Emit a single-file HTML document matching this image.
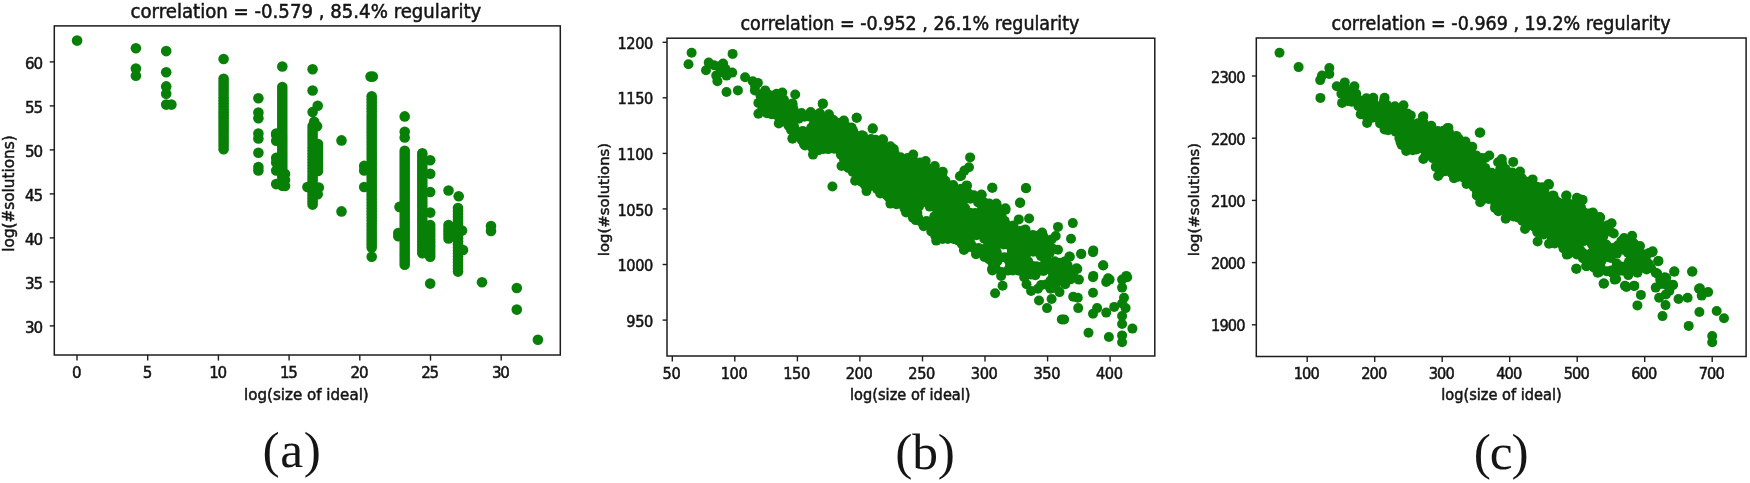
<!DOCTYPE html>
<html lang="en"><head><meta charset="utf-8"><title>scatter plots</title>
<style>
html,body{margin:0;padding:0;background:#fff;}
body{width:1750px;height:483px;overflow:hidden;}
svg{display:block;filter:blur(0.55px);}
.t{font-family:"DejaVu Sans","Liberation Sans",sans-serif;fill:#151515;stroke:#151515;stroke-width:0.5px;}
.cap{font-family:"Liberation Serif","DejaVu Serif",serif;fill:#151515;}
.fr{fill:none;stroke:#1c1c1c;stroke-width:1.5;}
.tick{stroke:#1c1c1c;stroke-width:1.4;}
.d{fill:#088008;}
</style></head><body>
<svg width="1750" height="483" viewBox="0 0 1750 483">
<rect width="1750" height="483" fill="#fff"/>
<g id="plot-a">
<g class="d"><circle cx="77.1" cy="40.6" r="5.3"/><circle cx="135.9" cy="48.3" r="5.3"/><circle cx="135.9" cy="68.6" r="5.3"/><circle cx="135.9" cy="75.7" r="5.3"/><circle cx="166.2" cy="51.1" r="5.3"/><circle cx="166.2" cy="72.2" r="5.3"/><circle cx="166.2" cy="86.4" r="5.3"/><circle cx="166.2" cy="93.7" r="5.3"/><circle cx="166.2" cy="104.6" r="5.3"/><circle cx="171.4" cy="104.6" r="5.3"/><circle cx="223.6" cy="59.0" r="5.3"/><circle cx="223.6" cy="78.8" r="5.3"/><circle cx="223.6" cy="81.9" r="5.3"/><circle cx="223.6" cy="84.9" r="5.3"/><circle cx="223.6" cy="88.0" r="5.3"/><circle cx="223.6" cy="91.0" r="5.3"/><circle cx="223.6" cy="94.1" r="5.3"/><circle cx="223.6" cy="97.2" r="5.3"/><circle cx="223.6" cy="100.2" r="5.3"/><circle cx="223.6" cy="103.3" r="5.3"/><circle cx="223.6" cy="106.3" r="5.3"/><circle cx="223.6" cy="109.4" r="5.3"/><circle cx="223.6" cy="112.5" r="5.3"/><circle cx="223.6" cy="115.5" r="5.3"/><circle cx="223.6" cy="118.6" r="5.3"/><circle cx="223.6" cy="121.7" r="5.3"/><circle cx="223.6" cy="124.7" r="5.3"/><circle cx="223.6" cy="127.8" r="5.3"/><circle cx="223.6" cy="130.8" r="5.3"/><circle cx="223.6" cy="133.9" r="5.3"/><circle cx="223.6" cy="137.0" r="5.3"/><circle cx="223.6" cy="140.0" r="5.3"/><circle cx="223.6" cy="143.1" r="5.3"/><circle cx="223.6" cy="146.1" r="5.3"/><circle cx="223.6" cy="149.2" r="5.3"/><circle cx="258.4" cy="98.2" r="5.3"/><circle cx="258.4" cy="112.6" r="5.3"/><circle cx="258.4" cy="118.3" r="5.3"/><circle cx="258.4" cy="133.5" r="5.3"/><circle cx="258.4" cy="138.5" r="5.3"/><circle cx="258.4" cy="152.7" r="5.3"/><circle cx="258.4" cy="167.0" r="5.3"/><circle cx="258.4" cy="170.4" r="5.3"/><circle cx="282.3" cy="66.5" r="5.3"/><circle cx="282.3" cy="87.0" r="5.3"/><circle cx="282.3" cy="90.0" r="5.3"/><circle cx="282.3" cy="93.0" r="5.3"/><circle cx="282.3" cy="96.0" r="5.3"/><circle cx="282.3" cy="99.0" r="5.3"/><circle cx="282.3" cy="102.0" r="5.3"/><circle cx="282.3" cy="104.9" r="5.3"/><circle cx="282.3" cy="107.9" r="5.3"/><circle cx="282.3" cy="110.9" r="5.3"/><circle cx="282.3" cy="113.9" r="5.3"/><circle cx="282.3" cy="116.9" r="5.3"/><circle cx="282.3" cy="119.9" r="5.3"/><circle cx="282.3" cy="122.9" r="5.3"/><circle cx="282.3" cy="125.9" r="5.3"/><circle cx="282.3" cy="128.9" r="5.3"/><circle cx="282.3" cy="131.9" r="5.3"/><circle cx="282.3" cy="134.9" r="5.3"/><circle cx="282.3" cy="137.8" r="5.3"/><circle cx="282.3" cy="140.8" r="5.3"/><circle cx="282.3" cy="143.8" r="5.3"/><circle cx="282.3" cy="146.8" r="5.3"/><circle cx="282.3" cy="149.8" r="5.3"/><circle cx="282.3" cy="152.8" r="5.3"/><circle cx="282.3" cy="155.8" r="5.3"/><circle cx="282.3" cy="158.8" r="5.3"/><circle cx="282.3" cy="161.8" r="5.3"/><circle cx="282.3" cy="164.8" r="5.3"/><circle cx="282.3" cy="167.8" r="5.3"/><circle cx="282.3" cy="170.7" r="5.3"/><circle cx="282.3" cy="173.7" r="5.3"/><circle cx="282.3" cy="176.7" r="5.3"/><circle cx="282.3" cy="179.7" r="5.3"/><circle cx="282.3" cy="182.7" r="5.3"/><circle cx="282.3" cy="185.7" r="5.3"/><circle cx="276.2" cy="133.5" r="5.3"/><circle cx="276.2" cy="135.1" r="5.3"/><circle cx="276.2" cy="140.8" r="5.3"/><circle cx="276.2" cy="157.9" r="5.3"/><circle cx="276.2" cy="162.4" r="5.3"/><circle cx="276.2" cy="170.4" r="5.3"/><circle cx="276.2" cy="184.1" r="5.3"/><circle cx="285.0" cy="174.0" r="5.3"/><circle cx="285.0" cy="180.0" r="5.3"/><circle cx="285.0" cy="186.0" r="5.3"/><circle cx="312.6" cy="69.3" r="5.3"/><circle cx="312.6" cy="90.5" r="5.3"/><circle cx="317.7" cy="105.7" r="5.3"/><circle cx="312.6" cy="112.1" r="5.3"/><circle cx="314.2" cy="121.7" r="5.3"/><circle cx="317.0" cy="126.2" r="5.3"/><circle cx="312.6" cy="126.0" r="5.3"/><circle cx="312.6" cy="129.0" r="5.3"/><circle cx="312.6" cy="132.0" r="5.3"/><circle cx="312.6" cy="135.1" r="5.3"/><circle cx="312.6" cy="138.1" r="5.3"/><circle cx="312.6" cy="141.1" r="5.3"/><circle cx="312.6" cy="144.1" r="5.3"/><circle cx="312.6" cy="147.2" r="5.3"/><circle cx="312.6" cy="150.2" r="5.3"/><circle cx="312.6" cy="153.2" r="5.3"/><circle cx="312.6" cy="156.2" r="5.3"/><circle cx="312.6" cy="159.3" r="5.3"/><circle cx="312.6" cy="162.3" r="5.3"/><circle cx="312.6" cy="165.3" r="5.3"/><circle cx="312.6" cy="168.3" r="5.3"/><circle cx="312.6" cy="171.3" r="5.3"/><circle cx="312.6" cy="174.4" r="5.3"/><circle cx="312.6" cy="177.4" r="5.3"/><circle cx="312.6" cy="180.4" r="5.3"/><circle cx="312.6" cy="183.4" r="5.3"/><circle cx="312.6" cy="186.5" r="5.3"/><circle cx="312.6" cy="189.5" r="5.3"/><circle cx="312.6" cy="192.5" r="5.3"/><circle cx="312.6" cy="195.5" r="5.3"/><circle cx="312.6" cy="198.6" r="5.3"/><circle cx="312.6" cy="201.6" r="5.3"/><circle cx="312.6" cy="204.6" r="5.3"/><circle cx="318.0" cy="144.0" r="5.3"/><circle cx="318.0" cy="147.0" r="5.3"/><circle cx="318.0" cy="150.0" r="5.3"/><circle cx="318.0" cy="153.0" r="5.3"/><circle cx="318.0" cy="156.0" r="5.3"/><circle cx="318.0" cy="159.0" r="5.3"/><circle cx="318.0" cy="162.0" r="5.3"/><circle cx="318.0" cy="165.0" r="5.3"/><circle cx="318.0" cy="168.0" r="5.3"/><circle cx="318.0" cy="171.0" r="5.3"/><circle cx="307.4" cy="187.0" r="5.3"/><circle cx="318.8" cy="187.5" r="5.3"/><circle cx="317.7" cy="194.3" r="5.3"/><circle cx="341.5" cy="140.4" r="5.3"/><circle cx="341.5" cy="211.4" r="5.3"/><circle cx="370.6" cy="76.6" r="5.3"/><circle cx="372.8" cy="76.6" r="5.3"/><circle cx="371.7" cy="96.2" r="5.3"/><circle cx="371.7" cy="99.2" r="5.3"/><circle cx="371.7" cy="102.3" r="5.3"/><circle cx="371.7" cy="105.3" r="5.3"/><circle cx="371.7" cy="108.3" r="5.3"/><circle cx="371.7" cy="111.3" r="5.3"/><circle cx="371.7" cy="114.4" r="5.3"/><circle cx="371.7" cy="117.4" r="5.3"/><circle cx="371.7" cy="120.4" r="5.3"/><circle cx="371.7" cy="123.5" r="5.3"/><circle cx="371.7" cy="126.5" r="5.3"/><circle cx="371.7" cy="129.5" r="5.3"/><circle cx="371.7" cy="132.5" r="5.3"/><circle cx="371.7" cy="135.6" r="5.3"/><circle cx="371.7" cy="138.6" r="5.3"/><circle cx="371.7" cy="141.6" r="5.3"/><circle cx="371.7" cy="144.6" r="5.3"/><circle cx="371.7" cy="147.7" r="5.3"/><circle cx="371.7" cy="150.7" r="5.3"/><circle cx="371.7" cy="153.7" r="5.3"/><circle cx="371.7" cy="156.8" r="5.3"/><circle cx="371.7" cy="159.8" r="5.3"/><circle cx="371.7" cy="162.8" r="5.3"/><circle cx="371.7" cy="165.8" r="5.3"/><circle cx="371.7" cy="168.9" r="5.3"/><circle cx="371.7" cy="171.9" r="5.3"/><circle cx="371.7" cy="174.9" r="5.3"/><circle cx="371.7" cy="178.0" r="5.3"/><circle cx="371.7" cy="181.0" r="5.3"/><circle cx="371.7" cy="184.0" r="5.3"/><circle cx="371.7" cy="187.0" r="5.3"/><circle cx="371.7" cy="190.1" r="5.3"/><circle cx="371.7" cy="193.1" r="5.3"/><circle cx="371.7" cy="196.1" r="5.3"/><circle cx="371.7" cy="199.2" r="5.3"/><circle cx="371.7" cy="202.2" r="5.3"/><circle cx="371.7" cy="205.2" r="5.3"/><circle cx="371.7" cy="208.2" r="5.3"/><circle cx="371.7" cy="211.3" r="5.3"/><circle cx="371.7" cy="214.3" r="5.3"/><circle cx="371.7" cy="217.3" r="5.3"/><circle cx="371.7" cy="220.3" r="5.3"/><circle cx="371.7" cy="223.4" r="5.3"/><circle cx="371.7" cy="226.4" r="5.3"/><circle cx="371.7" cy="229.4" r="5.3"/><circle cx="371.7" cy="232.5" r="5.3"/><circle cx="371.7" cy="235.5" r="5.3"/><circle cx="371.7" cy="238.5" r="5.3"/><circle cx="371.7" cy="241.5" r="5.3"/><circle cx="371.7" cy="244.6" r="5.3"/><circle cx="371.7" cy="247.6" r="5.3"/><circle cx="371.7" cy="256.8" r="5.3"/><circle cx="364.2" cy="165.9" r="5.3"/><circle cx="364.2" cy="170.4" r="5.3"/><circle cx="364.2" cy="187.0" r="5.3"/><circle cx="404.7" cy="116.4" r="5.3"/><circle cx="404.7" cy="131.7" r="5.3"/><circle cx="404.7" cy="137.4" r="5.3"/><circle cx="404.7" cy="150.8" r="5.3"/><circle cx="404.7" cy="153.8" r="5.3"/><circle cx="404.7" cy="156.8" r="5.3"/><circle cx="404.7" cy="159.8" r="5.3"/><circle cx="404.7" cy="162.8" r="5.3"/><circle cx="404.7" cy="165.8" r="5.3"/><circle cx="404.7" cy="168.8" r="5.3"/><circle cx="404.7" cy="171.8" r="5.3"/><circle cx="404.7" cy="174.8" r="5.3"/><circle cx="404.7" cy="177.8" r="5.3"/><circle cx="404.7" cy="180.8" r="5.3"/><circle cx="404.7" cy="183.8" r="5.3"/><circle cx="404.7" cy="186.8" r="5.3"/><circle cx="404.7" cy="189.8" r="5.3"/><circle cx="404.7" cy="192.8" r="5.3"/><circle cx="404.7" cy="195.8" r="5.3"/><circle cx="404.7" cy="198.8" r="5.3"/><circle cx="404.7" cy="201.8" r="5.3"/><circle cx="404.7" cy="204.8" r="5.3"/><circle cx="404.7" cy="207.8" r="5.3"/><circle cx="404.7" cy="210.7" r="5.3"/><circle cx="404.7" cy="213.7" r="5.3"/><circle cx="404.7" cy="216.7" r="5.3"/><circle cx="404.7" cy="219.7" r="5.3"/><circle cx="404.7" cy="222.7" r="5.3"/><circle cx="404.7" cy="225.7" r="5.3"/><circle cx="404.7" cy="228.7" r="5.3"/><circle cx="404.7" cy="231.7" r="5.3"/><circle cx="404.7" cy="234.7" r="5.3"/><circle cx="404.7" cy="237.7" r="5.3"/><circle cx="404.7" cy="240.7" r="5.3"/><circle cx="404.7" cy="243.7" r="5.3"/><circle cx="404.7" cy="246.7" r="5.3"/><circle cx="404.7" cy="249.7" r="5.3"/><circle cx="404.7" cy="252.7" r="5.3"/><circle cx="404.7" cy="255.7" r="5.3"/><circle cx="404.7" cy="258.7" r="5.3"/><circle cx="404.7" cy="261.7" r="5.3"/><circle cx="404.7" cy="264.7" r="5.3"/><circle cx="399.5" cy="206.9" r="5.3"/><circle cx="398.3" cy="233.0" r="5.3"/><circle cx="398.3" cy="236.3" r="5.3"/><circle cx="422.3" cy="153.3" r="5.3"/><circle cx="422.3" cy="156.3" r="5.3"/><circle cx="422.3" cy="159.4" r="5.3"/><circle cx="422.3" cy="162.4" r="5.3"/><circle cx="422.3" cy="165.4" r="5.3"/><circle cx="422.3" cy="168.5" r="5.3"/><circle cx="422.3" cy="171.5" r="5.3"/><circle cx="422.3" cy="174.5" r="5.3"/><circle cx="422.3" cy="177.5" r="5.3"/><circle cx="422.3" cy="180.6" r="5.3"/><circle cx="422.3" cy="183.6" r="5.3"/><circle cx="422.3" cy="186.6" r="5.3"/><circle cx="422.3" cy="189.7" r="5.3"/><circle cx="422.3" cy="192.7" r="5.3"/><circle cx="422.3" cy="195.7" r="5.3"/><circle cx="422.3" cy="198.8" r="5.3"/><circle cx="422.3" cy="201.8" r="5.3"/><circle cx="422.3" cy="204.8" r="5.3"/><circle cx="422.3" cy="207.8" r="5.3"/><circle cx="422.3" cy="210.9" r="5.3"/><circle cx="422.3" cy="213.9" r="5.3"/><circle cx="422.3" cy="216.9" r="5.3"/><circle cx="422.3" cy="220.0" r="5.3"/><circle cx="422.3" cy="223.0" r="5.3"/><circle cx="422.3" cy="226.0" r="5.3"/><circle cx="422.3" cy="229.1" r="5.3"/><circle cx="422.3" cy="232.1" r="5.3"/><circle cx="422.3" cy="235.1" r="5.3"/><circle cx="422.3" cy="238.1" r="5.3"/><circle cx="422.3" cy="241.2" r="5.3"/><circle cx="422.3" cy="244.2" r="5.3"/><circle cx="422.3" cy="247.2" r="5.3"/><circle cx="422.3" cy="250.3" r="5.3"/><circle cx="422.3" cy="253.3" r="5.3"/><circle cx="430.2" cy="160.2" r="5.3"/><circle cx="430.2" cy="173.8" r="5.3"/><circle cx="430.2" cy="192.0" r="5.3"/><circle cx="430.2" cy="212.6" r="5.3"/><circle cx="430.2" cy="225.0" r="5.3"/><circle cx="430.2" cy="227.9" r="5.3"/><circle cx="430.2" cy="230.8" r="5.3"/><circle cx="430.2" cy="233.7" r="5.3"/><circle cx="430.2" cy="236.6" r="5.3"/><circle cx="430.2" cy="239.5" r="5.3"/><circle cx="430.2" cy="242.3" r="5.3"/><circle cx="430.2" cy="245.2" r="5.3"/><circle cx="430.2" cy="248.1" r="5.3"/><circle cx="430.2" cy="251.0" r="5.3"/><circle cx="430.2" cy="253.9" r="5.3"/><circle cx="430.2" cy="256.8" r="5.3"/><circle cx="430.2" cy="283.6" r="5.3"/><circle cx="448.5" cy="190.5" r="5.3"/><circle cx="448.5" cy="225.0" r="5.3"/><circle cx="448.5" cy="228.4" r="5.3"/><circle cx="448.5" cy="231.8" r="5.3"/><circle cx="448.5" cy="235.1" r="5.3"/><circle cx="448.5" cy="238.5" r="5.3"/><circle cx="458.7" cy="196.2" r="5.3"/><circle cx="458.0" cy="208.0" r="5.3"/><circle cx="458.0" cy="211.0" r="5.3"/><circle cx="458.0" cy="214.1" r="5.3"/><circle cx="458.0" cy="217.1" r="5.3"/><circle cx="458.0" cy="220.1" r="5.3"/><circle cx="458.0" cy="223.1" r="5.3"/><circle cx="458.0" cy="226.2" r="5.3"/><circle cx="458.0" cy="229.2" r="5.3"/><circle cx="458.0" cy="232.2" r="5.3"/><circle cx="458.0" cy="235.3" r="5.3"/><circle cx="458.0" cy="238.3" r="5.3"/><circle cx="458.0" cy="241.3" r="5.3"/><circle cx="458.0" cy="244.3" r="5.3"/><circle cx="458.0" cy="247.4" r="5.3"/><circle cx="458.0" cy="250.4" r="5.3"/><circle cx="458.0" cy="253.4" r="5.3"/><circle cx="458.0" cy="256.5" r="5.3"/><circle cx="458.0" cy="259.5" r="5.3"/><circle cx="458.0" cy="262.5" r="5.3"/><circle cx="458.0" cy="265.5" r="5.3"/><circle cx="458.0" cy="268.6" r="5.3"/><circle cx="458.0" cy="271.6" r="5.3"/><circle cx="454.0" cy="228.5" r="5.3"/><circle cx="462.0" cy="230.5" r="5.3"/><circle cx="463.0" cy="250.0" r="5.3"/><circle cx="491.0" cy="226.0" r="5.3"/><circle cx="491.0" cy="231.0" r="5.3"/><circle cx="482.0" cy="282.3" r="5.3"/><circle cx="516.8" cy="288.0" r="5.3"/><circle cx="516.8" cy="309.6" r="5.3"/><circle cx="537.9" cy="339.8" r="5.3"/></g>
<rect class="fr" x="54.3" y="25.9" width="506.0" height="329.1"/>
<line class="tick" x1="77.0" x2="77.0" y1="355.0" y2="360.6"/><text class="t" font-size="15.10" text-anchor="middle" letter-spacing="-1.30" transform="translate(76.10,378.30) scale(1,1.09)">0</text>
<line class="tick" x1="147.7" x2="147.7" y1="355.0" y2="360.6"/><text class="t" font-size="15.10" text-anchor="middle" letter-spacing="-1.30" transform="translate(146.80,378.30) scale(1,1.09)">5</text>
<line class="tick" x1="218.4" x2="218.4" y1="355.0" y2="360.6"/><text class="t" font-size="15.10" text-anchor="middle" letter-spacing="-1.30" transform="translate(217.50,378.30) scale(1,1.09)">10</text>
<line class="tick" x1="289.1" x2="289.1" y1="355.0" y2="360.6"/><text class="t" font-size="15.10" text-anchor="middle" letter-spacing="-1.30" transform="translate(288.20,378.30) scale(1,1.09)">15</text>
<line class="tick" x1="359.8" x2="359.8" y1="355.0" y2="360.6"/><text class="t" font-size="15.10" text-anchor="middle" letter-spacing="-1.30" transform="translate(358.90,378.30) scale(1,1.09)">20</text>
<line class="tick" x1="430.5" x2="430.5" y1="355.0" y2="360.6"/><text class="t" font-size="15.10" text-anchor="middle" letter-spacing="-1.30" transform="translate(429.60,378.30) scale(1,1.09)">25</text>
<line class="tick" x1="501.2" x2="501.2" y1="355.0" y2="360.6"/><text class="t" font-size="15.10" text-anchor="middle" letter-spacing="-1.30" transform="translate(500.30,378.30) scale(1,1.09)">30</text>
<line class="tick" x1="49.7" x2="54.3" y1="61.9" y2="61.9"/><text class="t" font-size="15.10" text-anchor="end" letter-spacing="-1.30" transform="translate(41.70,68.70) scale(1,1.09)">60</text>
<line class="tick" x1="49.7" x2="54.3" y1="105.9" y2="105.9"/><text class="t" font-size="15.10" text-anchor="end" letter-spacing="-1.30" transform="translate(41.70,112.70) scale(1,1.09)">55</text>
<line class="tick" x1="49.7" x2="54.3" y1="149.9" y2="149.9"/><text class="t" font-size="15.10" text-anchor="end" letter-spacing="-1.30" transform="translate(41.70,156.70) scale(1,1.09)">50</text>
<line class="tick" x1="49.7" x2="54.3" y1="193.9" y2="193.9"/><text class="t" font-size="15.10" text-anchor="end" letter-spacing="-1.30" transform="translate(41.70,200.70) scale(1,1.09)">45</text>
<line class="tick" x1="49.7" x2="54.3" y1="237.9" y2="237.9"/><text class="t" font-size="15.10" text-anchor="end" letter-spacing="-1.30" transform="translate(41.70,244.70) scale(1,1.09)">40</text>
<line class="tick" x1="49.7" x2="54.3" y1="281.9" y2="281.9"/><text class="t" font-size="15.10" text-anchor="end" letter-spacing="-1.30" transform="translate(41.70,288.70) scale(1,1.09)">35</text>
<line class="tick" x1="49.7" x2="54.3" y1="325.9" y2="325.9"/><text class="t" font-size="15.10" text-anchor="end" letter-spacing="-1.30" transform="translate(41.70,332.70) scale(1,1.09)">30</text>
<text class="t" font-size="18.15" text-anchor="middle" transform="translate(305.90,17.50) scale(1,1.09)">correlation = -0.579 , 85.4% regularity</text>
<text class="t" font-size="15.10" text-anchor="middle" transform="translate(306.40,399.60) scale(1,1.09)">log(size of ideal)</text>
<text class="t" font-size="15.28" text-anchor="middle" transform="translate(13.70,193.50) rotate(-90)">log(#solutions)</text>
<text class="cap" text-anchor="middle" font-size="51.5" letter-spacing="0.6" x="292.0" y="467.15">(a)</text>
</g>
<g id="plot-b">
<g class="d"><circle cx="755.1" cy="86.2" r="5.0"/><circle cx="760.6" cy="94.6" r="5.0"/><circle cx="765.2" cy="96.3" r="5.0"/><circle cx="770.4" cy="95.4" r="5.0"/><circle cx="775.4" cy="95.2" r="5.0"/><circle cx="762.3" cy="98.8" r="5.0"/><circle cx="768.6" cy="100.2" r="5.0"/><circle cx="774.9" cy="100.3" r="5.0"/><circle cx="779.3" cy="100.4" r="5.0"/><circle cx="784.0" cy="99.8" r="5.0"/><circle cx="764.7" cy="104.8" r="5.0"/><circle cx="772.2" cy="104.5" r="5.0"/><circle cx="777.5" cy="102.9" r="5.0"/><circle cx="780.9" cy="104.1" r="5.0"/><circle cx="787.9" cy="105.4" r="5.0"/><circle cx="762.1" cy="109.7" r="5.0"/><circle cx="768.3" cy="109.5" r="5.0"/><circle cx="773.5" cy="109.7" r="5.0"/><circle cx="778.8" cy="107.8" r="5.0"/><circle cx="782.9" cy="108.8" r="5.0"/><circle cx="789.7" cy="109.7" r="5.0"/><circle cx="793.5" cy="109.0" r="5.0"/><circle cx="766.9" cy="113.3" r="5.0"/><circle cx="771.4" cy="114.2" r="5.0"/><circle cx="775.3" cy="114.5" r="5.0"/><circle cx="781.9" cy="112.9" r="5.0"/><circle cx="787.5" cy="112.6" r="5.0"/><circle cx="793.2" cy="113.4" r="5.0"/><circle cx="796.8" cy="113.9" r="5.0"/><circle cx="818.3" cy="114.4" r="5.0"/><circle cx="779.1" cy="117.2" r="5.0"/><circle cx="783.4" cy="118.0" r="5.0"/><circle cx="788.2" cy="118.8" r="5.0"/><circle cx="793.6" cy="116.5" r="5.0"/><circle cx="798.7" cy="118.8" r="5.0"/><circle cx="804.5" cy="116.8" r="5.0"/><circle cx="808.9" cy="116.5" r="5.0"/><circle cx="815.8" cy="118.0" r="5.0"/><circle cx="821.1" cy="118.3" r="5.0"/><circle cx="824.6" cy="117.9" r="5.0"/><circle cx="830.6" cy="118.5" r="5.0"/><circle cx="780.9" cy="121.7" r="5.0"/><circle cx="786.8" cy="121.3" r="5.0"/><circle cx="791.5" cy="121.4" r="5.0"/><circle cx="814.0" cy="123.0" r="5.0"/><circle cx="818.6" cy="122.0" r="5.0"/><circle cx="822.4" cy="122.6" r="5.0"/><circle cx="827.3" cy="121.4" r="5.0"/><circle cx="833.3" cy="121.0" r="5.0"/><circle cx="838.5" cy="123.0" r="5.0"/><circle cx="788.8" cy="126.0" r="5.0"/><circle cx="794.0" cy="126.6" r="5.0"/><circle cx="811.3" cy="127.6" r="5.0"/><circle cx="814.2" cy="127.5" r="5.0"/><circle cx="821.6" cy="127.4" r="5.0"/><circle cx="824.8" cy="127.6" r="5.0"/><circle cx="831.3" cy="125.4" r="5.0"/><circle cx="834.9" cy="127.9" r="5.0"/><circle cx="841.8" cy="126.0" r="5.0"/><circle cx="845.5" cy="125.8" r="5.0"/><circle cx="851.1" cy="127.4" r="5.0"/><circle cx="791.1" cy="130.0" r="5.0"/><circle cx="797.9" cy="132.3" r="5.0"/><circle cx="802.8" cy="130.9" r="5.0"/><circle cx="808.4" cy="131.9" r="5.0"/><circle cx="812.9" cy="130.6" r="5.0"/><circle cx="817.4" cy="131.0" r="5.0"/><circle cx="822.7" cy="131.0" r="5.0"/><circle cx="828.7" cy="132.3" r="5.0"/><circle cx="832.4" cy="131.4" r="5.0"/><circle cx="837.5" cy="130.2" r="5.0"/><circle cx="844.8" cy="131.4" r="5.0"/><circle cx="850.2" cy="131.1" r="5.0"/><circle cx="853.1" cy="130.9" r="5.0"/><circle cx="794.8" cy="136.2" r="5.0"/><circle cx="799.7" cy="134.9" r="5.0"/><circle cx="804.3" cy="136.4" r="5.0"/><circle cx="810.9" cy="135.6" r="5.0"/><circle cx="814.3" cy="136.5" r="5.0"/><circle cx="821.3" cy="135.0" r="5.0"/><circle cx="826.0" cy="136.7" r="5.0"/><circle cx="831.9" cy="135.8" r="5.0"/><circle cx="836.1" cy="135.9" r="5.0"/><circle cx="840.5" cy="134.9" r="5.0"/><circle cx="845.7" cy="136.2" r="5.0"/><circle cx="851.4" cy="135.9" r="5.0"/><circle cx="856.7" cy="135.7" r="5.0"/><circle cx="801.7" cy="140.0" r="5.0"/><circle cx="806.7" cy="139.6" r="5.0"/><circle cx="813.6" cy="139.8" r="5.0"/><circle cx="817.1" cy="140.2" r="5.0"/><circle cx="822.7" cy="141.3" r="5.0"/><circle cx="827.3" cy="141.5" r="5.0"/><circle cx="832.4" cy="141.2" r="5.0"/><circle cx="839.2" cy="139.5" r="5.0"/><circle cx="843.9" cy="139.7" r="5.0"/><circle cx="848.5" cy="139.4" r="5.0"/><circle cx="854.0" cy="141.5" r="5.0"/><circle cx="860.8" cy="141.3" r="5.0"/><circle cx="863.7" cy="139.7" r="5.0"/><circle cx="871.0" cy="139.1" r="5.0"/><circle cx="875.7" cy="139.7" r="5.0"/><circle cx="811.0" cy="145.8" r="5.0"/><circle cx="815.1" cy="144.5" r="5.0"/><circle cx="821.4" cy="144.8" r="5.0"/><circle cx="825.5" cy="145.9" r="5.0"/><circle cx="831.7" cy="144.3" r="5.0"/><circle cx="835.5" cy="144.3" r="5.0"/><circle cx="841.2" cy="146.0" r="5.0"/><circle cx="847.3" cy="145.8" r="5.0"/><circle cx="852.6" cy="145.6" r="5.0"/><circle cx="855.8" cy="144.8" r="5.0"/><circle cx="863.3" cy="145.8" r="5.0"/><circle cx="866.7" cy="144.5" r="5.0"/><circle cx="872.9" cy="144.4" r="5.0"/><circle cx="877.8" cy="143.6" r="5.0"/><circle cx="882.8" cy="144.7" r="5.0"/><circle cx="812.9" cy="149.0" r="5.0"/><circle cx="818.7" cy="150.2" r="5.0"/><circle cx="823.4" cy="148.9" r="5.0"/><circle cx="828.2" cy="149.1" r="5.0"/><circle cx="834.1" cy="148.7" r="5.0"/><circle cx="838.5" cy="149.4" r="5.0"/><circle cx="843.6" cy="148.8" r="5.0"/><circle cx="849.9" cy="150.1" r="5.0"/><circle cx="854.3" cy="149.1" r="5.0"/><circle cx="858.7" cy="148.7" r="5.0"/><circle cx="863.8" cy="149.4" r="5.0"/><circle cx="870.2" cy="148.1" r="5.0"/><circle cx="876.2" cy="148.8" r="5.0"/><circle cx="881.2" cy="150.1" r="5.0"/><circle cx="886.7" cy="148.4" r="5.0"/><circle cx="890.6" cy="150.3" r="5.0"/><circle cx="840.9" cy="154.8" r="5.0"/><circle cx="847.4" cy="153.2" r="5.0"/><circle cx="852.0" cy="154.9" r="5.0"/><circle cx="856.9" cy="154.9" r="5.0"/><circle cx="861.5" cy="153.4" r="5.0"/><circle cx="867.9" cy="153.0" r="5.0"/><circle cx="872.0" cy="154.7" r="5.0"/><circle cx="877.7" cy="154.5" r="5.0"/><circle cx="882.3" cy="152.9" r="5.0"/><circle cx="887.8" cy="152.9" r="5.0"/><circle cx="894.6" cy="153.2" r="5.0"/><circle cx="843.8" cy="158.7" r="5.0"/><circle cx="848.8" cy="156.9" r="5.0"/><circle cx="855.2" cy="158.9" r="5.0"/><circle cx="859.0" cy="157.0" r="5.0"/><circle cx="865.7" cy="158.5" r="5.0"/><circle cx="868.8" cy="157.6" r="5.0"/><circle cx="874.1" cy="159.0" r="5.0"/><circle cx="879.6" cy="159.3" r="5.0"/><circle cx="886.2" cy="157.1" r="5.0"/><circle cx="891.3" cy="157.9" r="5.0"/><circle cx="896.6" cy="159.1" r="5.0"/><circle cx="900.6" cy="157.2" r="5.0"/><circle cx="907.5" cy="158.0" r="5.0"/><circle cx="912.7" cy="158.7" r="5.0"/><circle cx="846.2" cy="163.6" r="5.0"/><circle cx="851.1" cy="161.5" r="5.0"/><circle cx="857.1" cy="163.1" r="5.0"/><circle cx="863.0" cy="163.3" r="5.0"/><circle cx="868.4" cy="163.9" r="5.0"/><circle cx="872.5" cy="162.7" r="5.0"/><circle cx="876.9" cy="162.2" r="5.0"/><circle cx="883.2" cy="161.6" r="5.0"/><circle cx="888.6" cy="161.8" r="5.0"/><circle cx="893.2" cy="163.9" r="5.0"/><circle cx="897.5" cy="161.5" r="5.0"/><circle cx="903.6" cy="161.9" r="5.0"/><circle cx="909.5" cy="161.4" r="5.0"/><circle cx="915.0" cy="163.6" r="5.0"/><circle cx="920.1" cy="162.5" r="5.0"/><circle cx="924.0" cy="163.1" r="5.0"/><circle cx="848.3" cy="167.9" r="5.0"/><circle cx="853.9" cy="167.9" r="5.0"/><circle cx="860.0" cy="168.1" r="5.0"/><circle cx="863.8" cy="166.9" r="5.0"/><circle cx="870.6" cy="168.4" r="5.0"/><circle cx="875.7" cy="166.0" r="5.0"/><circle cx="880.6" cy="166.2" r="5.0"/><circle cx="885.7" cy="168.0" r="5.0"/><circle cx="889.7" cy="168.3" r="5.0"/><circle cx="896.4" cy="166.6" r="5.0"/><circle cx="900.3" cy="167.1" r="5.0"/><circle cx="907.2" cy="167.4" r="5.0"/><circle cx="910.5" cy="166.0" r="5.0"/><circle cx="915.7" cy="168.0" r="5.0"/><circle cx="921.1" cy="167.4" r="5.0"/><circle cx="926.6" cy="167.7" r="5.0"/><circle cx="852.8" cy="171.9" r="5.0"/><circle cx="855.9" cy="170.9" r="5.0"/><circle cx="862.4" cy="173.0" r="5.0"/><circle cx="867.0" cy="172.4" r="5.0"/><circle cx="872.4" cy="172.7" r="5.0"/><circle cx="876.6" cy="171.7" r="5.0"/><circle cx="884.0" cy="171.1" r="5.0"/><circle cx="887.5" cy="170.5" r="5.0"/><circle cx="892.5" cy="171.1" r="5.0"/><circle cx="899.1" cy="171.0" r="5.0"/><circle cx="903.5" cy="171.0" r="5.0"/><circle cx="909.2" cy="172.7" r="5.0"/><circle cx="914.5" cy="170.9" r="5.0"/><circle cx="920.0" cy="172.9" r="5.0"/><circle cx="924.8" cy="170.6" r="5.0"/><circle cx="930.6" cy="172.7" r="5.0"/><circle cx="934.5" cy="170.8" r="5.0"/><circle cx="860.7" cy="176.6" r="5.0"/><circle cx="864.0" cy="175.6" r="5.0"/><circle cx="869.3" cy="176.1" r="5.0"/><circle cx="874.4" cy="175.5" r="5.0"/><circle cx="881.0" cy="176.6" r="5.0"/><circle cx="885.0" cy="177.5" r="5.0"/><circle cx="890.0" cy="176.4" r="5.0"/><circle cx="895.1" cy="177.2" r="5.0"/><circle cx="902.1" cy="175.6" r="5.0"/><circle cx="907.0" cy="177.1" r="5.0"/><circle cx="911.0" cy="175.8" r="5.0"/><circle cx="916.7" cy="177.2" r="5.0"/><circle cx="921.1" cy="176.7" r="5.0"/><circle cx="927.4" cy="176.1" r="5.0"/><circle cx="932.6" cy="177.2" r="5.0"/><circle cx="936.8" cy="177.2" r="5.0"/><circle cx="942.4" cy="177.0" r="5.0"/><circle cx="861.7" cy="182.0" r="5.0"/><circle cx="866.0" cy="181.4" r="5.0"/><circle cx="873.5" cy="180.8" r="5.0"/><circle cx="878.0" cy="182.0" r="5.0"/><circle cx="882.3" cy="181.1" r="5.0"/><circle cx="888.8" cy="180.4" r="5.0"/><circle cx="893.9" cy="180.5" r="5.0"/><circle cx="898.6" cy="181.0" r="5.0"/><circle cx="904.2" cy="180.3" r="5.0"/><circle cx="909.3" cy="180.8" r="5.0"/><circle cx="913.4" cy="181.0" r="5.0"/><circle cx="918.7" cy="181.8" r="5.0"/><circle cx="924.5" cy="181.3" r="5.0"/><circle cx="929.8" cy="180.7" r="5.0"/><circle cx="934.2" cy="179.8" r="5.0"/><circle cx="941.3" cy="180.8" r="5.0"/><circle cx="945.4" cy="180.8" r="5.0"/><circle cx="865.2" cy="185.4" r="5.0"/><circle cx="870.6" cy="185.9" r="5.0"/><circle cx="874.2" cy="184.5" r="5.0"/><circle cx="879.2" cy="186.1" r="5.0"/><circle cx="884.5" cy="184.2" r="5.0"/><circle cx="891.4" cy="185.4" r="5.0"/><circle cx="894.8" cy="185.7" r="5.0"/><circle cx="901.7" cy="185.2" r="5.0"/><circle cx="905.2" cy="185.7" r="5.0"/><circle cx="911.3" cy="185.5" r="5.0"/><circle cx="918.0" cy="186.1" r="5.0"/><circle cx="922.9" cy="184.3" r="5.0"/><circle cx="926.7" cy="185.3" r="5.0"/><circle cx="931.1" cy="186.5" r="5.0"/><circle cx="937.0" cy="184.6" r="5.0"/><circle cx="942.3" cy="184.6" r="5.0"/><circle cx="948.9" cy="185.4" r="5.0"/><circle cx="953.2" cy="185.0" r="5.0"/><circle cx="877.2" cy="189.3" r="5.0"/><circle cx="883.6" cy="189.7" r="5.0"/><circle cx="889.3" cy="188.7" r="5.0"/><circle cx="893.3" cy="190.7" r="5.0"/><circle cx="898.8" cy="189.8" r="5.0"/><circle cx="902.7" cy="188.8" r="5.0"/><circle cx="908.4" cy="190.8" r="5.0"/><circle cx="915.0" cy="189.0" r="5.0"/><circle cx="920.4" cy="188.5" r="5.0"/><circle cx="924.8" cy="191.0" r="5.0"/><circle cx="929.3" cy="190.9" r="5.0"/><circle cx="935.4" cy="188.6" r="5.0"/><circle cx="939.7" cy="189.6" r="5.0"/><circle cx="944.7" cy="190.4" r="5.0"/><circle cx="949.7" cy="190.5" r="5.0"/><circle cx="955.2" cy="188.6" r="5.0"/><circle cx="961.1" cy="188.7" r="5.0"/><circle cx="966.3" cy="190.5" r="5.0"/><circle cx="886.4" cy="195.0" r="5.0"/><circle cx="889.7" cy="194.8" r="5.0"/><circle cx="895.6" cy="193.4" r="5.0"/><circle cx="902.4" cy="194.7" r="5.0"/><circle cx="907.0" cy="193.3" r="5.0"/><circle cx="912.4" cy="195.4" r="5.0"/><circle cx="917.8" cy="194.9" r="5.0"/><circle cx="922.8" cy="195.0" r="5.0"/><circle cx="927.4" cy="194.1" r="5.0"/><circle cx="933.2" cy="195.0" r="5.0"/><circle cx="938.5" cy="193.7" r="5.0"/><circle cx="943.9" cy="194.3" r="5.0"/><circle cx="949.1" cy="193.2" r="5.0"/><circle cx="954.4" cy="195.0" r="5.0"/><circle cx="957.7" cy="195.1" r="5.0"/><circle cx="962.8" cy="193.5" r="5.0"/><circle cx="968.6" cy="193.6" r="5.0"/><circle cx="973.9" cy="195.3" r="5.0"/><circle cx="888.8" cy="197.5" r="5.0"/><circle cx="892.9" cy="197.8" r="5.0"/><circle cx="899.7" cy="199.8" r="5.0"/><circle cx="902.8" cy="199.0" r="5.0"/><circle cx="909.1" cy="197.6" r="5.0"/><circle cx="913.9" cy="199.4" r="5.0"/><circle cx="919.7" cy="198.2" r="5.0"/><circle cx="925.2" cy="198.2" r="5.0"/><circle cx="929.9" cy="198.5" r="5.0"/><circle cx="936.2" cy="199.1" r="5.0"/><circle cx="940.9" cy="199.2" r="5.0"/><circle cx="945.0" cy="200.0" r="5.0"/><circle cx="951.1" cy="199.2" r="5.0"/><circle cx="955.2" cy="197.9" r="5.0"/><circle cx="961.1" cy="199.6" r="5.0"/><circle cx="966.9" cy="198.4" r="5.0"/><circle cx="970.4" cy="198.8" r="5.0"/><circle cx="977.5" cy="197.9" r="5.0"/><circle cx="896.3" cy="204.2" r="5.0"/><circle cx="900.2" cy="203.8" r="5.0"/><circle cx="906.9" cy="203.5" r="5.0"/><circle cx="911.0" cy="202.1" r="5.0"/><circle cx="917.0" cy="204.1" r="5.0"/><circle cx="921.4" cy="202.5" r="5.0"/><circle cx="926.4" cy="202.2" r="5.0"/><circle cx="932.8" cy="204.5" r="5.0"/><circle cx="938.3" cy="202.9" r="5.0"/><circle cx="943.3" cy="202.1" r="5.0"/><circle cx="948.8" cy="202.8" r="5.0"/><circle cx="951.9" cy="203.6" r="5.0"/><circle cx="957.4" cy="202.7" r="5.0"/><circle cx="962.4" cy="203.1" r="5.0"/><circle cx="978.1" cy="202.5" r="5.0"/><circle cx="984.7" cy="202.8" r="5.0"/><circle cx="989.1" cy="203.4" r="5.0"/><circle cx="904.6" cy="208.6" r="5.0"/><circle cx="908.0" cy="206.5" r="5.0"/><circle cx="913.4" cy="208.0" r="5.0"/><circle cx="919.0" cy="206.5" r="5.0"/><circle cx="929.7" cy="206.6" r="5.0"/><circle cx="936.0" cy="207.8" r="5.0"/><circle cx="939.0" cy="207.3" r="5.0"/><circle cx="945.7" cy="208.8" r="5.0"/><circle cx="950.5" cy="208.1" r="5.0"/><circle cx="955.0" cy="207.1" r="5.0"/><circle cx="962.0" cy="207.4" r="5.0"/><circle cx="965.1" cy="208.0" r="5.0"/><circle cx="982.1" cy="208.3" r="5.0"/><circle cx="986.8" cy="206.6" r="5.0"/><circle cx="992.7" cy="206.6" r="5.0"/><circle cx="997.3" cy="207.5" r="5.0"/><circle cx="906.1" cy="212.5" r="5.0"/><circle cx="911.9" cy="213.3" r="5.0"/><circle cx="917.4" cy="213.0" r="5.0"/><circle cx="937.4" cy="213.2" r="5.0"/><circle cx="941.9" cy="213.4" r="5.0"/><circle cx="947.8" cy="212.8" r="5.0"/><circle cx="952.5" cy="211.7" r="5.0"/><circle cx="958.0" cy="211.8" r="5.0"/><circle cx="962.5" cy="212.1" r="5.0"/><circle cx="970.0" cy="212.7" r="5.0"/><circle cx="975.1" cy="212.9" r="5.0"/><circle cx="980.0" cy="213.5" r="5.0"/><circle cx="985.0" cy="211.7" r="5.0"/><circle cx="988.9" cy="212.0" r="5.0"/><circle cx="993.5" cy="211.6" r="5.0"/><circle cx="1001.0" cy="213.4" r="5.0"/><circle cx="912.9" cy="217.7" r="5.0"/><circle cx="918.4" cy="218.0" r="5.0"/><circle cx="934.3" cy="216.4" r="5.0"/><circle cx="940.2" cy="215.8" r="5.0"/><circle cx="944.7" cy="217.5" r="5.0"/><circle cx="950.0" cy="216.5" r="5.0"/><circle cx="956.4" cy="216.0" r="5.0"/><circle cx="960.1" cy="216.0" r="5.0"/><circle cx="965.8" cy="216.4" r="5.0"/><circle cx="971.7" cy="216.7" r="5.0"/><circle cx="977.5" cy="215.6" r="5.0"/><circle cx="982.2" cy="217.6" r="5.0"/><circle cx="986.3" cy="215.5" r="5.0"/><circle cx="992.0" cy="215.8" r="5.0"/><circle cx="997.2" cy="217.3" r="5.0"/><circle cx="1001.5" cy="215.8" r="5.0"/><circle cx="920.6" cy="221.5" r="5.0"/><circle cx="926.5" cy="221.1" r="5.0"/><circle cx="932.5" cy="221.8" r="5.0"/><circle cx="936.6" cy="220.6" r="5.0"/><circle cx="941.8" cy="222.5" r="5.0"/><circle cx="947.0" cy="220.3" r="5.0"/><circle cx="953.2" cy="221.5" r="5.0"/><circle cx="959.4" cy="220.1" r="5.0"/><circle cx="962.9" cy="220.4" r="5.0"/><circle cx="969.0" cy="221.1" r="5.0"/><circle cx="973.7" cy="222.3" r="5.0"/><circle cx="979.6" cy="222.2" r="5.0"/><circle cx="985.5" cy="220.7" r="5.0"/><circle cx="990.7" cy="221.0" r="5.0"/><circle cx="993.6" cy="222.3" r="5.0"/><circle cx="998.9" cy="220.0" r="5.0"/><circle cx="1004.6" cy="220.7" r="5.0"/><circle cx="923.7" cy="226.3" r="5.0"/><circle cx="928.5" cy="225.1" r="5.0"/><circle cx="934.3" cy="226.3" r="5.0"/><circle cx="941.4" cy="224.5" r="5.0"/><circle cx="944.3" cy="226.9" r="5.0"/><circle cx="951.8" cy="224.9" r="5.0"/><circle cx="955.3" cy="225.8" r="5.0"/><circle cx="960.5" cy="225.6" r="5.0"/><circle cx="966.1" cy="225.1" r="5.0"/><circle cx="970.2" cy="224.7" r="5.0"/><circle cx="975.7" cy="224.7" r="5.0"/><circle cx="982.1" cy="226.3" r="5.0"/><circle cx="986.3" cy="226.5" r="5.0"/><circle cx="992.7" cy="225.4" r="5.0"/><circle cx="997.3" cy="225.0" r="5.0"/><circle cx="1003.7" cy="225.9" r="5.0"/><circle cx="1006.6" cy="224.9" r="5.0"/><circle cx="1013.4" cy="225.5" r="5.0"/><circle cx="931.3" cy="231.5" r="5.0"/><circle cx="936.4" cy="229.7" r="5.0"/><circle cx="943.4" cy="229.3" r="5.0"/><circle cx="946.9" cy="229.2" r="5.0"/><circle cx="952.3" cy="230.4" r="5.0"/><circle cx="959.2" cy="229.4" r="5.0"/><circle cx="962.7" cy="231.0" r="5.0"/><circle cx="968.6" cy="229.8" r="5.0"/><circle cx="973.0" cy="229.6" r="5.0"/><circle cx="980.4" cy="229.3" r="5.0"/><circle cx="983.7" cy="230.9" r="5.0"/><circle cx="990.6" cy="231.3" r="5.0"/><circle cx="994.7" cy="231.5" r="5.0"/><circle cx="1000.2" cy="229.7" r="5.0"/><circle cx="1005.1" cy="230.8" r="5.0"/><circle cx="1011.0" cy="229.3" r="5.0"/><circle cx="1014.7" cy="231.5" r="5.0"/><circle cx="1019.7" cy="231.1" r="5.0"/><circle cx="1025.5" cy="229.6" r="5.0"/><circle cx="935.2" cy="235.6" r="5.0"/><circle cx="940.2" cy="234.7" r="5.0"/><circle cx="945.1" cy="235.8" r="5.0"/><circle cx="951.0" cy="234.0" r="5.0"/><circle cx="955.4" cy="234.4" r="5.0"/><circle cx="962.1" cy="235.3" r="5.0"/><circle cx="965.2" cy="235.9" r="5.0"/><circle cx="970.1" cy="235.0" r="5.0"/><circle cx="976.4" cy="235.3" r="5.0"/><circle cx="981.6" cy="233.7" r="5.0"/><circle cx="987.0" cy="235.6" r="5.0"/><circle cx="992.9" cy="234.4" r="5.0"/><circle cx="996.6" cy="235.4" r="5.0"/><circle cx="1003.3" cy="234.0" r="5.0"/><circle cx="1008.7" cy="236.1" r="5.0"/><circle cx="1012.8" cy="234.5" r="5.0"/><circle cx="1018.7" cy="235.9" r="5.0"/><circle cx="1022.6" cy="234.3" r="5.0"/><circle cx="1028.1" cy="235.4" r="5.0"/><circle cx="1032.9" cy="234.9" r="5.0"/><circle cx="1038.9" cy="235.2" r="5.0"/><circle cx="1043.2" cy="236.0" r="5.0"/><circle cx="942.5" cy="238.9" r="5.0"/><circle cx="947.8" cy="238.9" r="5.0"/><circle cx="953.6" cy="239.0" r="5.0"/><circle cx="957.4" cy="240.2" r="5.0"/><circle cx="963.7" cy="238.0" r="5.0"/><circle cx="969.7" cy="239.9" r="5.0"/><circle cx="984.2" cy="238.8" r="5.0"/><circle cx="989.7" cy="239.7" r="5.0"/><circle cx="995.4" cy="240.4" r="5.0"/><circle cx="999.0" cy="238.9" r="5.0"/><circle cx="1006.1" cy="240.0" r="5.0"/><circle cx="1010.6" cy="239.7" r="5.0"/><circle cx="1015.1" cy="240.4" r="5.0"/><circle cx="1020.9" cy="239.0" r="5.0"/><circle cx="1025.1" cy="238.3" r="5.0"/><circle cx="1032.2" cy="240.1" r="5.0"/><circle cx="1035.1" cy="238.8" r="5.0"/><circle cx="1041.5" cy="239.3" r="5.0"/><circle cx="1046.4" cy="240.3" r="5.0"/><circle cx="1051.6" cy="239.4" r="5.0"/><circle cx="961.7" cy="243.8" r="5.0"/><circle cx="964.9" cy="244.6" r="5.0"/><circle cx="971.1" cy="244.2" r="5.0"/><circle cx="988.1" cy="244.9" r="5.0"/><circle cx="992.4" cy="243.3" r="5.0"/><circle cx="997.0" cy="243.2" r="5.0"/><circle cx="1003.6" cy="244.5" r="5.0"/><circle cx="1008.5" cy="244.6" r="5.0"/><circle cx="1014.2" cy="244.3" r="5.0"/><circle cx="1017.7" cy="244.5" r="5.0"/><circle cx="1022.7" cy="244.1" r="5.0"/><circle cx="1027.7" cy="244.7" r="5.0"/><circle cx="1033.7" cy="243.2" r="5.0"/><circle cx="1040.0" cy="242.7" r="5.0"/><circle cx="1045.3" cy="244.4" r="5.0"/><circle cx="1048.4" cy="244.5" r="5.0"/><circle cx="967.9" cy="247.3" r="5.0"/><circle cx="973.9" cy="248.3" r="5.0"/><circle cx="978.5" cy="247.9" r="5.0"/><circle cx="984.5" cy="249.0" r="5.0"/><circle cx="989.8" cy="247.4" r="5.0"/><circle cx="995.7" cy="247.9" r="5.0"/><circle cx="1011.6" cy="248.0" r="5.0"/><circle cx="1015.7" cy="247.8" r="5.0"/><circle cx="1019.5" cy="247.5" r="5.0"/><circle cx="1025.0" cy="247.7" r="5.0"/><circle cx="1031.5" cy="248.4" r="5.0"/><circle cx="1037.5" cy="248.8" r="5.0"/><circle cx="1041.2" cy="249.5" r="5.0"/><circle cx="1047.1" cy="248.4" r="5.0"/><circle cx="1052.9" cy="248.7" r="5.0"/><circle cx="981.5" cy="252.3" r="5.0"/><circle cx="987.0" cy="253.9" r="5.0"/><circle cx="991.5" cy="251.9" r="5.0"/><circle cx="996.8" cy="252.3" r="5.0"/><circle cx="1011.8" cy="251.8" r="5.0"/><circle cx="1019.0" cy="253.2" r="5.0"/><circle cx="1022.5" cy="253.1" r="5.0"/><circle cx="1027.4" cy="252.8" r="5.0"/><circle cx="1033.3" cy="251.8" r="5.0"/><circle cx="1039.6" cy="253.4" r="5.0"/><circle cx="1044.2" cy="251.9" r="5.0"/><circle cx="1049.8" cy="252.6" r="5.0"/><circle cx="984.4" cy="257.0" r="5.0"/><circle cx="989.0" cy="257.0" r="5.0"/><circle cx="995.3" cy="258.1" r="5.0"/><circle cx="999.9" cy="257.9" r="5.0"/><circle cx="1004.4" cy="257.2" r="5.0"/><circle cx="1010.0" cy="256.8" r="5.0"/><circle cx="1015.2" cy="258.0" r="5.0"/><circle cx="1021.4" cy="256.5" r="5.0"/><circle cx="1025.3" cy="258.0" r="5.0"/><circle cx="1041.0" cy="256.1" r="5.0"/><circle cx="1046.4" cy="256.1" r="5.0"/><circle cx="991.8" cy="261.6" r="5.0"/><circle cx="997.4" cy="261.2" r="5.0"/><circle cx="1009.0" cy="260.9" r="5.0"/><circle cx="1013.0" cy="261.8" r="5.0"/><circle cx="1017.8" cy="262.7" r="5.0"/><circle cx="1022.6" cy="262.8" r="5.0"/><circle cx="1028.2" cy="261.4" r="5.0"/><circle cx="1045.3" cy="261.5" r="5.0"/><circle cx="1048.3" cy="262.2" r="5.0"/><circle cx="1054.6" cy="261.3" r="5.0"/><circle cx="1059.3" cy="262.7" r="5.0"/><circle cx="1064.5" cy="261.6" r="5.0"/><circle cx="995.3" cy="266.2" r="5.0"/><circle cx="1009.8" cy="266.9" r="5.0"/><circle cx="1016.4" cy="265.6" r="5.0"/><circle cx="1021.3" cy="266.0" r="5.0"/><circle cx="1025.2" cy="265.6" r="5.0"/><circle cx="1032.3" cy="266.0" r="5.0"/><circle cx="1036.4" cy="266.3" r="5.0"/><circle cx="1040.3" cy="267.0" r="5.0"/><circle cx="1047.4" cy="267.3" r="5.0"/><circle cx="1051.6" cy="265.5" r="5.0"/><circle cx="1056.7" cy="266.9" r="5.0"/><circle cx="1062.8" cy="266.1" r="5.0"/><circle cx="1067.6" cy="265.4" r="5.0"/><circle cx="1001.4" cy="272.0" r="5.0"/><circle cx="1007.8" cy="270.6" r="5.0"/><circle cx="1019.0" cy="270.7" r="5.0"/><circle cx="1022.5" cy="270.6" r="5.0"/><circle cx="1029.6" cy="270.6" r="5.0"/><circle cx="1034.2" cy="271.0" r="5.0"/><circle cx="1038.8" cy="271.0" r="5.0"/><circle cx="1043.5" cy="270.9" r="5.0"/><circle cx="1050.3" cy="269.7" r="5.0"/><circle cx="1054.2" cy="271.8" r="5.0"/><circle cx="1061.0" cy="269.5" r="5.0"/><circle cx="1065.3" cy="271.1" r="5.0"/><circle cx="1071.0" cy="270.7" r="5.0"/><circle cx="1074.4" cy="270.3" r="5.0"/><circle cx="1024.9" cy="276.1" r="5.0"/><circle cx="1031.1" cy="274.6" r="5.0"/><circle cx="1035.3" cy="275.3" r="5.0"/><circle cx="1053.0" cy="274.7" r="5.0"/><circle cx="1058.4" cy="276.3" r="5.0"/><circle cx="1063.6" cy="276.5" r="5.0"/><circle cx="1066.9" cy="276.1" r="5.0"/><circle cx="1073.0" cy="274.5" r="5.0"/><circle cx="1050.5" cy="280.5" r="5.0"/><circle cx="1054.4" cy="279.7" r="5.0"/><circle cx="1060.4" cy="279.3" r="5.0"/><circle cx="1063.9" cy="280.1" r="5.0"/><circle cx="1070.9" cy="279.2" r="5.0"/><circle cx="1041.1" cy="285.1" r="5.0"/><circle cx="1045.9" cy="284.5" r="5.0"/><circle cx="1052.7" cy="285.4" r="5.0"/><circle cx="1055.9" cy="283.7" r="5.0"/><circle cx="1050.5" cy="288.8" r="5.0"/><circle cx="1055.8" cy="287.9" r="5.0"/><circle cx="691.6" cy="52.8" r="5.0"/><circle cx="688.5" cy="64.2" r="5.0"/><circle cx="732.6" cy="53.9" r="5.0"/><circle cx="708.7" cy="62.6" r="5.0"/><circle cx="706.0" cy="70.3" r="5.0"/><circle cx="714.0" cy="65.3" r="5.0"/><circle cx="718.5" cy="66.5" r="5.0"/><circle cx="723.1" cy="63.5" r="5.0"/><circle cx="725.3" cy="68.7" r="5.0"/><circle cx="720.8" cy="72.2" r="5.0"/><circle cx="716.2" cy="75.6" r="5.0"/><circle cx="726.5" cy="75.6" r="5.0"/><circle cx="732.2" cy="72.6" r="5.0"/><circle cx="717.4" cy="81.3" r="5.0"/><circle cx="726.5" cy="92.0" r="5.0"/><circle cx="737.9" cy="90.4" r="5.0"/><circle cx="745.1" cy="77.2" r="5.0"/><circle cx="752.7" cy="81.3" r="5.0"/><circle cx="757.9" cy="82.9" r="5.0"/><circle cx="754.9" cy="90.4" r="5.0"/><circle cx="765.2" cy="90.4" r="5.0"/><circle cx="760.6" cy="96.1" r="5.0"/><circle cx="768.6" cy="94.9" r="5.0"/><circle cx="776.6" cy="93.8" r="5.0"/><circle cx="782.3" cy="92.6" r="5.0"/><circle cx="795.2" cy="94.5" r="5.0"/><circle cx="758.4" cy="102.9" r="5.0"/><circle cx="766.3" cy="104.0" r="5.0"/><circle cx="774.3" cy="102.9" r="5.0"/><circle cx="758.4" cy="113.8" r="5.0"/><circle cx="765.2" cy="110.9" r="5.0"/><circle cx="772.0" cy="113.1" r="5.0"/><circle cx="778.8" cy="108.6" r="5.0"/><circle cx="785.7" cy="106.3" r="5.0"/><circle cx="792.5" cy="105.2" r="5.0"/><circle cx="791.4" cy="112.0" r="5.0"/><circle cx="801.6" cy="113.1" r="5.0"/><circle cx="810.7" cy="112.0" r="5.0"/><circle cx="822.8" cy="103.6" r="5.0"/><circle cx="819.8" cy="113.1" r="5.0"/><circle cx="828.9" cy="114.3" r="5.0"/><circle cx="778.8" cy="123.4" r="5.0"/><circle cx="788.0" cy="124.5" r="5.0"/><circle cx="794.8" cy="129.1" r="5.0"/><circle cx="792.5" cy="138.2" r="5.0"/><circle cx="806.2" cy="135.9" r="5.0"/><circle cx="803.9" cy="143.9" r="5.0"/><circle cx="833.5" cy="120.0" r="5.0"/><circle cx="843.7" cy="121.1" r="5.0"/><circle cx="856.7" cy="117.7" r="5.0"/><circle cx="851.7" cy="127.9" r="5.0"/><circle cx="872.7" cy="128.6" r="5.0"/><circle cx="863.1" cy="135.9" r="5.0"/><circle cx="883.1" cy="139.8" r="5.0"/><circle cx="890.4" cy="146.2" r="5.0"/><circle cx="792.5" cy="103.4" r="5.0"/><circle cx="822.8" cy="103.9" r="5.0"/><circle cx="856.7" cy="117.8" r="5.0"/><circle cx="872.7" cy="128.5" r="5.0"/><circle cx="843.8" cy="120.5" r="5.0"/><circle cx="862.0" cy="135.3" r="5.0"/><circle cx="882.5" cy="139.2" r="5.0"/><circle cx="893.8" cy="149.0" r="5.0"/><circle cx="913.2" cy="154.6" r="5.0"/><circle cx="925.7" cy="161.0" r="5.0"/><circle cx="934.8" cy="166.0" r="5.0"/><circle cx="942.8" cy="171.7" r="5.0"/><circle cx="970.1" cy="157.4" r="5.0"/><circle cx="969.0" cy="167.2" r="5.0"/><circle cx="964.4" cy="170.6" r="5.0"/><circle cx="959.9" cy="176.3" r="5.0"/><circle cx="966.7" cy="185.4" r="5.0"/><circle cx="992.2" cy="187.7" r="5.0"/><circle cx="1025.9" cy="188.1" r="5.0"/><circle cx="1020.2" cy="202.5" r="5.0"/><circle cx="981.5" cy="194.5" r="5.0"/><circle cx="996.3" cy="203.6" r="5.0"/><circle cx="1005.4" cy="208.2" r="5.0"/><circle cx="792.5" cy="138.7" r="5.0"/><circle cx="805.0" cy="145.5" r="5.0"/><circle cx="813.0" cy="154.6" r="5.0"/><circle cx="832.4" cy="186.5" r="5.0"/><circle cx="841.5" cy="166.0" r="5.0"/><circle cx="855.1" cy="180.8" r="5.0"/><circle cx="866.5" cy="191.1" r="5.0"/><circle cx="880.2" cy="193.4" r="5.0"/><circle cx="890.4" cy="203.6" r="5.0"/><circle cx="941.9" cy="172.3" r="5.0"/><circle cx="961.2" cy="175.7" r="5.0"/><circle cx="966.9" cy="185.9" r="5.0"/><circle cx="992.4" cy="187.8" r="5.0"/><circle cx="1026.1" cy="188.2" r="5.0"/><circle cx="981.7" cy="195.0" r="5.0"/><circle cx="996.5" cy="204.2" r="5.0"/><circle cx="1005.6" cy="209.8" r="5.0"/><circle cx="1020.0" cy="203.0" r="5.0"/><circle cx="1018.8" cy="219.4" r="5.0"/><circle cx="1029.1" cy="218.5" r="5.0"/><circle cx="1023.8" cy="230.3" r="5.0"/><circle cx="1042.1" cy="232.6" r="5.0"/><circle cx="1058.0" cy="226.9" r="5.0"/><circle cx="1072.8" cy="223.1" r="5.0"/><circle cx="1055.7" cy="236.0" r="5.0"/><circle cx="1071.0" cy="238.8" r="5.0"/><circle cx="1058.0" cy="249.7" r="5.0"/><circle cx="1069.4" cy="256.5" r="5.0"/><circle cx="1081.2" cy="253.8" r="5.0"/><circle cx="1093.3" cy="250.4" r="5.0"/><circle cx="1077.3" cy="269.0" r="5.0"/><circle cx="1103.1" cy="265.2" r="5.0"/><circle cx="1093.3" cy="275.9" r="5.0"/><circle cx="1108.1" cy="278.2" r="5.0"/><circle cx="1126.3" cy="275.9" r="5.0"/><circle cx="915.7" cy="220.1" r="5.0"/><circle cx="936.2" cy="240.6" r="5.0"/><circle cx="964.6" cy="248.6" r="5.0"/><circle cx="976.0" cy="254.2" r="5.0"/><circle cx="992.0" cy="269.0" r="5.0"/><circle cx="1001.1" cy="275.9" r="5.0"/><circle cx="963.9" cy="250.0" r="5.0"/><circle cx="976.4" cy="253.4" r="5.0"/><circle cx="989.0" cy="259.1" r="5.0"/><circle cx="992.4" cy="270.5" r="5.0"/><circle cx="1001.5" cy="272.8" r="5.0"/><circle cx="1012.9" cy="270.5" r="5.0"/><circle cx="1002.6" cy="285.7" r="5.0"/><circle cx="995.1" cy="293.3" r="5.0"/><circle cx="1024.2" cy="277.3" r="5.0"/><circle cx="1026.5" cy="284.2" r="5.0"/><circle cx="1031.1" cy="291.0" r="5.0"/><circle cx="1039.0" cy="300.5" r="5.0"/><circle cx="1037.9" cy="288.7" r="5.0"/><circle cx="1047.0" cy="308.1" r="5.0"/><circle cx="1051.6" cy="299.0" r="5.0"/><circle cx="1059.5" cy="292.1" r="5.0"/><circle cx="1064.1" cy="319.4" r="5.0"/><circle cx="1061.8" cy="319.4" r="5.0"/><circle cx="1065.2" cy="284.2" r="5.0"/><circle cx="1073.2" cy="296.7" r="5.0"/><circle cx="1077.8" cy="297.8" r="5.0"/><circle cx="1078.2" cy="308.1" r="5.0"/><circle cx="1076.6" cy="268.2" r="5.0"/><circle cx="1078.9" cy="279.6" r="5.0"/><circle cx="1069.8" cy="256.8" r="5.0"/><circle cx="1081.2" cy="254.1" r="5.0"/><circle cx="1093.0" cy="252.3" r="5.0"/><circle cx="1103.3" cy="265.5" r="5.0"/><circle cx="1093.0" cy="277.3" r="5.0"/><circle cx="1093.0" cy="292.8" r="5.0"/><circle cx="1106.2" cy="281.9" r="5.0"/><circle cx="1109.6" cy="279.6" r="5.0"/><circle cx="1122.1" cy="279.6" r="5.0"/><circle cx="1127.2" cy="277.3" r="5.0"/><circle cx="1122.1" cy="287.6" r="5.0"/><circle cx="1124.0" cy="297.8" r="5.0"/><circle cx="1122.1" cy="303.5" r="5.0"/><circle cx="1125.6" cy="308.1" r="5.0"/><circle cx="1114.2" cy="306.9" r="5.0"/><circle cx="1106.2" cy="312.6" r="5.0"/><circle cx="1097.1" cy="308.1" r="5.0"/><circle cx="1093.0" cy="313.8" r="5.0"/><circle cx="1122.1" cy="316.0" r="5.0"/><circle cx="1122.1" cy="324.0" r="5.0"/><circle cx="1132.4" cy="328.6" r="5.0"/><circle cx="1122.1" cy="335.4" r="5.0"/><circle cx="1122.1" cy="342.2" r="5.0"/><circle cx="1108.9" cy="337.0" r="5.0"/><circle cx="1088.5" cy="332.7" r="5.0"/></g>
<rect class="fr" x="667.0" y="38.2" width="487.8" height="317.8"/>
<line class="tick" x1="672.3" x2="672.3" y1="356.0" y2="361.4"/><text class="t" font-size="14.59" text-anchor="middle" letter-spacing="-0.40" transform="translate(671.40,378.51) scale(1,1.09)">50</text>
<line class="tick" x1="734.8" x2="734.8" y1="356.0" y2="361.4"/><text class="t" font-size="14.59" text-anchor="middle" letter-spacing="-0.40" transform="translate(733.95,378.51) scale(1,1.09)">100</text>
<line class="tick" x1="797.4" x2="797.4" y1="356.0" y2="361.4"/><text class="t" font-size="14.59" text-anchor="middle" letter-spacing="-0.40" transform="translate(796.50,378.51) scale(1,1.09)">150</text>
<line class="tick" x1="859.9" x2="859.9" y1="356.0" y2="361.4"/><text class="t" font-size="14.59" text-anchor="middle" letter-spacing="-0.40" transform="translate(859.05,378.51) scale(1,1.09)">200</text>
<line class="tick" x1="922.5" x2="922.5" y1="356.0" y2="361.4"/><text class="t" font-size="14.59" text-anchor="middle" letter-spacing="-0.40" transform="translate(921.60,378.51) scale(1,1.09)">250</text>
<line class="tick" x1="985.0" x2="985.0" y1="356.0" y2="361.4"/><text class="t" font-size="14.59" text-anchor="middle" letter-spacing="-0.40" transform="translate(984.15,378.51) scale(1,1.09)">300</text>
<line class="tick" x1="1047.6" x2="1047.6" y1="356.0" y2="361.4"/><text class="t" font-size="14.59" text-anchor="middle" letter-spacing="-0.40" transform="translate(1046.70,378.51) scale(1,1.09)">350</text>
<line class="tick" x1="1110.1" x2="1110.1" y1="356.0" y2="361.4"/><text class="t" font-size="14.59" text-anchor="middle" letter-spacing="-0.40" transform="translate(1109.25,378.51) scale(1,1.09)">400</text>
<line class="tick" x1="662.6" x2="667.0" y1="42.3" y2="42.3"/><text class="t" font-size="14.59" text-anchor="end" letter-spacing="-0.40" transform="translate(652.90,48.87) scale(1,1.09)">1200</text>
<line class="tick" x1="662.6" x2="667.0" y1="97.8" y2="97.8"/><text class="t" font-size="14.59" text-anchor="end" letter-spacing="-0.40" transform="translate(652.90,104.42) scale(1,1.09)">1150</text>
<line class="tick" x1="662.6" x2="667.0" y1="153.4" y2="153.4"/><text class="t" font-size="14.59" text-anchor="end" letter-spacing="-0.40" transform="translate(652.90,159.97) scale(1,1.09)">1100</text>
<line class="tick" x1="662.6" x2="667.0" y1="208.9" y2="208.9"/><text class="t" font-size="14.59" text-anchor="end" letter-spacing="-0.40" transform="translate(652.90,215.52) scale(1,1.09)">1050</text>
<line class="tick" x1="662.6" x2="667.0" y1="264.5" y2="264.5"/><text class="t" font-size="14.59" text-anchor="end" letter-spacing="-0.40" transform="translate(652.90,271.07) scale(1,1.09)">1000</text>
<line class="tick" x1="662.6" x2="667.0" y1="320.1" y2="320.1"/><text class="t" font-size="14.59" text-anchor="end" letter-spacing="-0.40" transform="translate(652.90,326.62) scale(1,1.09)">950</text>
<text class="t" font-size="17.53" text-anchor="middle" transform="translate(909.90,29.60) scale(1,1.09)">correlation = -0.952 , 26.1% regularity</text>
<text class="t" font-size="14.59" text-anchor="middle" transform="translate(910.30,399.60) scale(1,1.09)">log(size of ideal)</text>
<text class="t" font-size="14.88" text-anchor="middle" transform="translate(608.60,199.55) rotate(-90)">log(#solutions)</text>
<text class="cap" text-anchor="middle" font-size="51.5" letter-spacing="-0.2" x="925.0" y="468.85">(b)</text>
</g>
<g id="plot-c">
<g class="d"><circle cx="1344.7" cy="87.2" r="5.0"/><circle cx="1348.4" cy="90.3" r="5.0"/><circle cx="1353.0" cy="92.0" r="5.0"/><circle cx="1345.6" cy="96.8" r="5.0"/><circle cx="1348.8" cy="96.2" r="5.0"/><circle cx="1356.3" cy="96.5" r="5.0"/><circle cx="1347.6" cy="100.9" r="5.0"/><circle cx="1351.9" cy="99.8" r="5.0"/><circle cx="1356.6" cy="101.7" r="5.0"/><circle cx="1361.6" cy="100.7" r="5.0"/><circle cx="1373.1" cy="101.5" r="5.0"/><circle cx="1384.0" cy="100.8" r="5.0"/><circle cx="1366.2" cy="105.4" r="5.0"/><circle cx="1370.1" cy="105.5" r="5.0"/><circle cx="1375.8" cy="105.7" r="5.0"/><circle cx="1380.7" cy="105.9" r="5.0"/><circle cx="1386.7" cy="104.8" r="5.0"/><circle cx="1363.9" cy="108.3" r="5.0"/><circle cx="1368.5" cy="109.0" r="5.0"/><circle cx="1372.3" cy="108.3" r="5.0"/><circle cx="1379.7" cy="110.2" r="5.0"/><circle cx="1383.5" cy="110.2" r="5.0"/><circle cx="1390.1" cy="110.5" r="5.0"/><circle cx="1394.1" cy="108.8" r="5.0"/><circle cx="1399.3" cy="110.7" r="5.0"/><circle cx="1365.0" cy="114.9" r="5.0"/><circle cx="1370.6" cy="112.7" r="5.0"/><circle cx="1375.3" cy="114.2" r="5.0"/><circle cx="1381.8" cy="112.9" r="5.0"/><circle cx="1387.0" cy="113.6" r="5.0"/><circle cx="1391.5" cy="113.7" r="5.0"/><circle cx="1396.5" cy="115.2" r="5.0"/><circle cx="1402.9" cy="115.0" r="5.0"/><circle cx="1367.3" cy="117.1" r="5.0"/><circle cx="1372.6" cy="117.8" r="5.0"/><circle cx="1378.0" cy="118.2" r="5.0"/><circle cx="1383.3" cy="118.0" r="5.0"/><circle cx="1387.6" cy="119.3" r="5.0"/><circle cx="1394.6" cy="118.4" r="5.0"/><circle cx="1397.9" cy="117.7" r="5.0"/><circle cx="1405.5" cy="118.3" r="5.0"/><circle cx="1408.9" cy="119.3" r="5.0"/><circle cx="1386.2" cy="123.7" r="5.0"/><circle cx="1390.1" cy="122.0" r="5.0"/><circle cx="1395.9" cy="122.6" r="5.0"/><circle cx="1401.6" cy="122.6" r="5.0"/><circle cx="1408.2" cy="122.8" r="5.0"/><circle cx="1412.4" cy="124.1" r="5.0"/><circle cx="1417.8" cy="123.2" r="5.0"/><circle cx="1423.5" cy="122.5" r="5.0"/><circle cx="1395.2" cy="128.4" r="5.0"/><circle cx="1398.3" cy="128.2" r="5.0"/><circle cx="1405.1" cy="127.4" r="5.0"/><circle cx="1410.9" cy="127.7" r="5.0"/><circle cx="1413.8" cy="126.7" r="5.0"/><circle cx="1419.1" cy="127.7" r="5.0"/><circle cx="1425.6" cy="128.4" r="5.0"/><circle cx="1395.6" cy="131.8" r="5.0"/><circle cx="1402.6" cy="131.5" r="5.0"/><circle cx="1406.1" cy="132.9" r="5.0"/><circle cx="1412.8" cy="130.7" r="5.0"/><circle cx="1416.3" cy="132.1" r="5.0"/><circle cx="1423.8" cy="132.2" r="5.0"/><circle cx="1428.8" cy="130.9" r="5.0"/><circle cx="1433.2" cy="131.1" r="5.0"/><circle cx="1437.8" cy="131.0" r="5.0"/><circle cx="1443.3" cy="130.8" r="5.0"/><circle cx="1449.0" cy="132.3" r="5.0"/><circle cx="1405.4" cy="137.5" r="5.0"/><circle cx="1409.2" cy="135.2" r="5.0"/><circle cx="1415.6" cy="136.8" r="5.0"/><circle cx="1420.4" cy="135.3" r="5.0"/><circle cx="1424.1" cy="137.5" r="5.0"/><circle cx="1430.1" cy="136.4" r="5.0"/><circle cx="1436.9" cy="135.6" r="5.0"/><circle cx="1441.2" cy="135.3" r="5.0"/><circle cx="1446.2" cy="137.1" r="5.0"/><circle cx="1450.3" cy="137.1" r="5.0"/><circle cx="1406.3" cy="140.0" r="5.0"/><circle cx="1412.7" cy="141.0" r="5.0"/><circle cx="1418.6" cy="142.1" r="5.0"/><circle cx="1423.6" cy="142.1" r="5.0"/><circle cx="1428.7" cy="139.7" r="5.0"/><circle cx="1432.1" cy="142.2" r="5.0"/><circle cx="1439.2" cy="141.2" r="5.0"/><circle cx="1443.7" cy="140.8" r="5.0"/><circle cx="1448.4" cy="140.0" r="5.0"/><circle cx="1454.0" cy="140.4" r="5.0"/><circle cx="1458.0" cy="141.9" r="5.0"/><circle cx="1409.6" cy="145.5" r="5.0"/><circle cx="1414.7" cy="145.2" r="5.0"/><circle cx="1420.5" cy="144.4" r="5.0"/><circle cx="1425.7" cy="146.6" r="5.0"/><circle cx="1431.1" cy="145.6" r="5.0"/><circle cx="1435.2" cy="144.4" r="5.0"/><circle cx="1439.8" cy="145.5" r="5.0"/><circle cx="1447.0" cy="146.4" r="5.0"/><circle cx="1450.4" cy="146.1" r="5.0"/><circle cx="1457.2" cy="145.4" r="5.0"/><circle cx="1462.6" cy="144.6" r="5.0"/><circle cx="1412.8" cy="150.2" r="5.0"/><circle cx="1416.5" cy="149.4" r="5.0"/><circle cx="1423.3" cy="148.7" r="5.0"/><circle cx="1428.2" cy="150.1" r="5.0"/><circle cx="1433.6" cy="149.5" r="5.0"/><circle cx="1438.2" cy="149.9" r="5.0"/><circle cx="1444.1" cy="148.8" r="5.0"/><circle cx="1448.7" cy="149.3" r="5.0"/><circle cx="1454.1" cy="149.3" r="5.0"/><circle cx="1458.3" cy="149.2" r="5.0"/><circle cx="1465.3" cy="149.6" r="5.0"/><circle cx="1470.4" cy="150.6" r="5.0"/><circle cx="1425.8" cy="154.5" r="5.0"/><circle cx="1431.3" cy="153.4" r="5.0"/><circle cx="1435.9" cy="155.2" r="5.0"/><circle cx="1441.5" cy="154.9" r="5.0"/><circle cx="1444.9" cy="154.4" r="5.0"/><circle cx="1450.6" cy="154.7" r="5.0"/><circle cx="1456.2" cy="154.3" r="5.0"/><circle cx="1461.7" cy="154.7" r="5.0"/><circle cx="1467.8" cy="153.9" r="5.0"/><circle cx="1471.4" cy="153.6" r="5.0"/><circle cx="1476.2" cy="155.4" r="5.0"/><circle cx="1432.8" cy="158.3" r="5.0"/><circle cx="1438.7" cy="158.5" r="5.0"/><circle cx="1442.2" cy="159.8" r="5.0"/><circle cx="1449.3" cy="159.9" r="5.0"/><circle cx="1453.3" cy="158.3" r="5.0"/><circle cx="1459.5" cy="158.0" r="5.0"/><circle cx="1465.4" cy="159.4" r="5.0"/><circle cx="1469.6" cy="157.8" r="5.0"/><circle cx="1474.1" cy="158.8" r="5.0"/><circle cx="1481.1" cy="158.0" r="5.0"/><circle cx="1485.3" cy="157.9" r="5.0"/><circle cx="1439.8" cy="164.5" r="5.0"/><circle cx="1447.2" cy="163.0" r="5.0"/><circle cx="1450.5" cy="162.5" r="5.0"/><circle cx="1455.7" cy="163.2" r="5.0"/><circle cx="1462.2" cy="164.6" r="5.0"/><circle cx="1467.0" cy="164.6" r="5.0"/><circle cx="1471.8" cy="163.9" r="5.0"/><circle cx="1475.9" cy="163.2" r="5.0"/><circle cx="1481.2" cy="162.5" r="5.0"/><circle cx="1498.1" cy="162.2" r="5.0"/><circle cx="1502.2" cy="163.9" r="5.0"/><circle cx="1438.7" cy="168.1" r="5.0"/><circle cx="1442.5" cy="167.9" r="5.0"/><circle cx="1447.5" cy="167.1" r="5.0"/><circle cx="1455.1" cy="167.6" r="5.0"/><circle cx="1458.1" cy="167.8" r="5.0"/><circle cx="1463.1" cy="168.2" r="5.0"/><circle cx="1468.7" cy="167.2" r="5.0"/><circle cx="1475.0" cy="169.1" r="5.0"/><circle cx="1478.6" cy="168.5" r="5.0"/><circle cx="1485.2" cy="167.9" r="5.0"/><circle cx="1500.2" cy="169.2" r="5.0"/><circle cx="1505.4" cy="168.9" r="5.0"/><circle cx="1440.3" cy="173.0" r="5.0"/><circle cx="1445.3" cy="171.2" r="5.0"/><circle cx="1451.7" cy="173.2" r="5.0"/><circle cx="1456.0" cy="173.7" r="5.0"/><circle cx="1462.2" cy="172.0" r="5.0"/><circle cx="1467.5" cy="173.4" r="5.0"/><circle cx="1471.1" cy="173.5" r="5.0"/><circle cx="1477.1" cy="171.9" r="5.0"/><circle cx="1482.1" cy="172.5" r="5.0"/><circle cx="1487.7" cy="171.9" r="5.0"/><circle cx="1491.7" cy="172.8" r="5.0"/><circle cx="1498.6" cy="173.0" r="5.0"/><circle cx="1503.0" cy="173.4" r="5.0"/><circle cx="1507.2" cy="171.5" r="5.0"/><circle cx="1512.4" cy="172.6" r="5.0"/><circle cx="1458.1" cy="176.8" r="5.0"/><circle cx="1463.9" cy="177.6" r="5.0"/><circle cx="1470.6" cy="178.2" r="5.0"/><circle cx="1474.4" cy="177.3" r="5.0"/><circle cx="1478.9" cy="177.3" r="5.0"/><circle cx="1486.0" cy="178.0" r="5.0"/><circle cx="1489.3" cy="176.1" r="5.0"/><circle cx="1496.5" cy="177.5" r="5.0"/><circle cx="1501.3" cy="175.8" r="5.0"/><circle cx="1506.1" cy="175.7" r="5.0"/><circle cx="1511.6" cy="177.7" r="5.0"/><circle cx="1515.8" cy="175.7" r="5.0"/><circle cx="1522.0" cy="178.3" r="5.0"/><circle cx="1468.1" cy="181.2" r="5.0"/><circle cx="1472.6" cy="182.3" r="5.0"/><circle cx="1476.9" cy="181.3" r="5.0"/><circle cx="1482.1" cy="181.1" r="5.0"/><circle cx="1487.4" cy="182.4" r="5.0"/><circle cx="1491.7" cy="182.7" r="5.0"/><circle cx="1498.8" cy="181.6" r="5.0"/><circle cx="1503.6" cy="180.9" r="5.0"/><circle cx="1509.1" cy="182.4" r="5.0"/><circle cx="1513.3" cy="181.5" r="5.0"/><circle cx="1518.1" cy="180.8" r="5.0"/><circle cx="1524.9" cy="181.8" r="5.0"/><circle cx="1529.1" cy="181.8" r="5.0"/><circle cx="1473.8" cy="186.9" r="5.0"/><circle cx="1479.3" cy="185.9" r="5.0"/><circle cx="1483.9" cy="186.5" r="5.0"/><circle cx="1490.3" cy="186.8" r="5.0"/><circle cx="1496.0" cy="186.6" r="5.0"/><circle cx="1500.0" cy="185.3" r="5.0"/><circle cx="1506.1" cy="184.8" r="5.0"/><circle cx="1512.2" cy="186.5" r="5.0"/><circle cx="1516.2" cy="185.6" r="5.0"/><circle cx="1520.3" cy="186.1" r="5.0"/><circle cx="1527.3" cy="185.0" r="5.0"/><circle cx="1530.8" cy="186.5" r="5.0"/><circle cx="1537.0" cy="186.7" r="5.0"/><circle cx="1542.0" cy="187.2" r="5.0"/><circle cx="1477.0" cy="191.8" r="5.0"/><circle cx="1483.0" cy="190.3" r="5.0"/><circle cx="1486.8" cy="190.3" r="5.0"/><circle cx="1493.1" cy="191.4" r="5.0"/><circle cx="1499.0" cy="190.0" r="5.0"/><circle cx="1502.0" cy="190.9" r="5.0"/><circle cx="1508.9" cy="190.9" r="5.0"/><circle cx="1514.4" cy="191.3" r="5.0"/><circle cx="1519.2" cy="191.3" r="5.0"/><circle cx="1523.1" cy="191.6" r="5.0"/><circle cx="1529.7" cy="189.4" r="5.0"/><circle cx="1533.6" cy="190.8" r="5.0"/><circle cx="1539.1" cy="191.6" r="5.0"/><circle cx="1544.3" cy="190.4" r="5.0"/><circle cx="1480.0" cy="195.2" r="5.0"/><circle cx="1484.0" cy="194.6" r="5.0"/><circle cx="1489.9" cy="195.6" r="5.0"/><circle cx="1496.2" cy="195.5" r="5.0"/><circle cx="1499.8" cy="194.9" r="5.0"/><circle cx="1506.9" cy="194.1" r="5.0"/><circle cx="1510.6" cy="195.3" r="5.0"/><circle cx="1517.5" cy="193.7" r="5.0"/><circle cx="1521.9" cy="194.9" r="5.0"/><circle cx="1526.7" cy="195.9" r="5.0"/><circle cx="1530.8" cy="195.2" r="5.0"/><circle cx="1536.6" cy="195.6" r="5.0"/><circle cx="1542.8" cy="194.8" r="5.0"/><circle cx="1546.5" cy="195.7" r="5.0"/><circle cx="1482.2" cy="199.8" r="5.0"/><circle cx="1488.6" cy="199.0" r="5.0"/><circle cx="1491.7" cy="198.7" r="5.0"/><circle cx="1499.0" cy="199.7" r="5.0"/><circle cx="1503.9" cy="199.2" r="5.0"/><circle cx="1508.0" cy="200.0" r="5.0"/><circle cx="1513.8" cy="200.6" r="5.0"/><circle cx="1517.9" cy="199.1" r="5.0"/><circle cx="1524.5" cy="200.5" r="5.0"/><circle cx="1529.1" cy="200.2" r="5.0"/><circle cx="1533.4" cy="199.8" r="5.0"/><circle cx="1539.2" cy="200.0" r="5.0"/><circle cx="1544.3" cy="198.7" r="5.0"/><circle cx="1549.4" cy="200.1" r="5.0"/><circle cx="1555.8" cy="200.6" r="5.0"/><circle cx="1495.3" cy="204.0" r="5.0"/><circle cx="1499.4" cy="205.0" r="5.0"/><circle cx="1506.7" cy="204.2" r="5.0"/><circle cx="1510.9" cy="204.8" r="5.0"/><circle cx="1515.0" cy="203.7" r="5.0"/><circle cx="1520.8" cy="204.3" r="5.0"/><circle cx="1526.2" cy="204.3" r="5.0"/><circle cx="1532.9" cy="203.8" r="5.0"/><circle cx="1536.0" cy="202.7" r="5.0"/><circle cx="1543.1" cy="203.9" r="5.0"/><circle cx="1547.3" cy="202.8" r="5.0"/><circle cx="1551.6" cy="202.7" r="5.0"/><circle cx="1558.9" cy="202.8" r="5.0"/><circle cx="1562.6" cy="203.9" r="5.0"/><circle cx="1568.4" cy="203.3" r="5.0"/><circle cx="1573.8" cy="204.3" r="5.0"/><circle cx="1579.9" cy="202.9" r="5.0"/><circle cx="1499.3" cy="207.7" r="5.0"/><circle cx="1502.7" cy="209.3" r="5.0"/><circle cx="1507.7" cy="209.1" r="5.0"/><circle cx="1513.0" cy="208.3" r="5.0"/><circle cx="1518.7" cy="207.8" r="5.0"/><circle cx="1524.9" cy="209.6" r="5.0"/><circle cx="1530.3" cy="207.6" r="5.0"/><circle cx="1533.2" cy="208.3" r="5.0"/><circle cx="1540.3" cy="208.6" r="5.0"/><circle cx="1546.0" cy="209.8" r="5.0"/><circle cx="1550.5" cy="207.9" r="5.0"/><circle cx="1555.0" cy="207.4" r="5.0"/><circle cx="1560.2" cy="209.1" r="5.0"/><circle cx="1565.2" cy="207.7" r="5.0"/><circle cx="1570.9" cy="209.5" r="5.0"/><circle cx="1576.4" cy="207.5" r="5.0"/><circle cx="1581.1" cy="207.8" r="5.0"/><circle cx="1512.3" cy="212.6" r="5.0"/><circle cx="1515.4" cy="212.3" r="5.0"/><circle cx="1521.4" cy="212.1" r="5.0"/><circle cx="1525.9" cy="213.6" r="5.0"/><circle cx="1530.6" cy="213.3" r="5.0"/><circle cx="1536.8" cy="213.5" r="5.0"/><circle cx="1541.6" cy="212.9" r="5.0"/><circle cx="1546.7" cy="211.7" r="5.0"/><circle cx="1553.6" cy="212.6" r="5.0"/><circle cx="1557.3" cy="214.1" r="5.0"/><circle cx="1562.7" cy="213.1" r="5.0"/><circle cx="1567.3" cy="212.8" r="5.0"/><circle cx="1574.4" cy="213.8" r="5.0"/><circle cx="1579.5" cy="214.1" r="5.0"/><circle cx="1583.1" cy="211.8" r="5.0"/><circle cx="1588.1" cy="213.4" r="5.0"/><circle cx="1513.3" cy="216.2" r="5.0"/><circle cx="1518.6" cy="217.6" r="5.0"/><circle cx="1524.7" cy="216.8" r="5.0"/><circle cx="1528.0" cy="218.1" r="5.0"/><circle cx="1533.6" cy="218.4" r="5.0"/><circle cx="1539.8" cy="216.5" r="5.0"/><circle cx="1544.9" cy="218.2" r="5.0"/><circle cx="1549.3" cy="218.7" r="5.0"/><circle cx="1554.1" cy="216.6" r="5.0"/><circle cx="1560.7" cy="218.0" r="5.0"/><circle cx="1565.9" cy="218.6" r="5.0"/><circle cx="1570.1" cy="216.3" r="5.0"/><circle cx="1576.1" cy="217.1" r="5.0"/><circle cx="1581.0" cy="217.2" r="5.0"/><circle cx="1587.4" cy="216.9" r="5.0"/><circle cx="1592.1" cy="217.7" r="5.0"/><circle cx="1596.3" cy="218.6" r="5.0"/><circle cx="1522.4" cy="220.9" r="5.0"/><circle cx="1526.7" cy="222.3" r="5.0"/><circle cx="1532.7" cy="221.5" r="5.0"/><circle cx="1537.3" cy="223.2" r="5.0"/><circle cx="1543.5" cy="222.2" r="5.0"/><circle cx="1547.0" cy="222.4" r="5.0"/><circle cx="1553.2" cy="222.5" r="5.0"/><circle cx="1558.3" cy="221.7" r="5.0"/><circle cx="1563.6" cy="221.6" r="5.0"/><circle cx="1567.5" cy="221.0" r="5.0"/><circle cx="1573.6" cy="221.1" r="5.0"/><circle cx="1578.1" cy="221.5" r="5.0"/><circle cx="1583.5" cy="221.8" r="5.0"/><circle cx="1590.3" cy="222.1" r="5.0"/><circle cx="1594.4" cy="221.7" r="5.0"/><circle cx="1599.6" cy="222.8" r="5.0"/><circle cx="1528.6" cy="225.5" r="5.0"/><circle cx="1534.8" cy="227.2" r="5.0"/><circle cx="1539.4" cy="225.4" r="5.0"/><circle cx="1544.2" cy="227.0" r="5.0"/><circle cx="1550.7" cy="226.2" r="5.0"/><circle cx="1556.2" cy="226.2" r="5.0"/><circle cx="1559.2" cy="225.7" r="5.0"/><circle cx="1566.6" cy="227.0" r="5.0"/><circle cx="1569.8" cy="225.9" r="5.0"/><circle cx="1575.8" cy="226.5" r="5.0"/><circle cx="1580.0" cy="227.6" r="5.0"/><circle cx="1586.5" cy="225.9" r="5.0"/><circle cx="1590.4" cy="226.7" r="5.0"/><circle cx="1598.0" cy="227.1" r="5.0"/><circle cx="1603.0" cy="227.5" r="5.0"/><circle cx="1607.7" cy="225.3" r="5.0"/><circle cx="1537.3" cy="232.3" r="5.0"/><circle cx="1542.7" cy="230.9" r="5.0"/><circle cx="1547.7" cy="231.2" r="5.0"/><circle cx="1552.1" cy="230.5" r="5.0"/><circle cx="1558.6" cy="231.8" r="5.0"/><circle cx="1564.2" cy="231.5" r="5.0"/><circle cx="1568.2" cy="230.7" r="5.0"/><circle cx="1574.0" cy="231.4" r="5.0"/><circle cx="1579.8" cy="231.6" r="5.0"/><circle cx="1583.5" cy="230.4" r="5.0"/><circle cx="1587.8" cy="231.7" r="5.0"/><circle cx="1594.0" cy="230.7" r="5.0"/><circle cx="1598.3" cy="231.0" r="5.0"/><circle cx="1605.7" cy="230.4" r="5.0"/><circle cx="1610.5" cy="231.7" r="5.0"/><circle cx="1543.7" cy="234.4" r="5.0"/><circle cx="1551.0" cy="235.5" r="5.0"/><circle cx="1555.1" cy="236.7" r="5.0"/><circle cx="1561.2" cy="234.8" r="5.0"/><circle cx="1566.2" cy="235.2" r="5.0"/><circle cx="1570.7" cy="235.0" r="5.0"/><circle cx="1575.3" cy="235.0" r="5.0"/><circle cx="1580.6" cy="234.7" r="5.0"/><circle cx="1587.4" cy="235.2" r="5.0"/><circle cx="1591.8" cy="236.3" r="5.0"/><circle cx="1597.3" cy="234.6" r="5.0"/><circle cx="1603.2" cy="236.6" r="5.0"/><circle cx="1552.0" cy="239.1" r="5.0"/><circle cx="1559.0" cy="240.3" r="5.0"/><circle cx="1563.6" cy="240.3" r="5.0"/><circle cx="1568.4" cy="241.0" r="5.0"/><circle cx="1572.3" cy="239.7" r="5.0"/><circle cx="1577.9" cy="240.3" r="5.0"/><circle cx="1583.6" cy="241.1" r="5.0"/><circle cx="1588.3" cy="239.4" r="5.0"/><circle cx="1595.3" cy="240.6" r="5.0"/><circle cx="1599.2" cy="239.7" r="5.0"/><circle cx="1621.3" cy="241.0" r="5.0"/><circle cx="1631.7" cy="240.8" r="5.0"/><circle cx="1554.7" cy="243.5" r="5.0"/><circle cx="1561.5" cy="243.6" r="5.0"/><circle cx="1566.1" cy="245.3" r="5.0"/><circle cx="1570.7" cy="244.7" r="5.0"/><circle cx="1575.6" cy="245.3" r="5.0"/><circle cx="1591.6" cy="243.7" r="5.0"/><circle cx="1596.8" cy="244.9" r="5.0"/><circle cx="1602.6" cy="244.1" r="5.0"/><circle cx="1606.1" cy="244.4" r="5.0"/><circle cx="1617.9" cy="245.2" r="5.0"/><circle cx="1623.2" cy="245.7" r="5.0"/><circle cx="1629.2" cy="245.1" r="5.0"/><circle cx="1634.0" cy="243.6" r="5.0"/><circle cx="1563.5" cy="248.4" r="5.0"/><circle cx="1569.4" cy="248.6" r="5.0"/><circle cx="1573.9" cy="247.8" r="5.0"/><circle cx="1579.8" cy="249.4" r="5.0"/><circle cx="1593.9" cy="248.2" r="5.0"/><circle cx="1600.4" cy="249.4" r="5.0"/><circle cx="1604.2" cy="247.9" r="5.0"/><circle cx="1610.2" cy="247.9" r="5.0"/><circle cx="1614.4" cy="247.8" r="5.0"/><circle cx="1619.4" cy="249.7" r="5.0"/><circle cx="1624.8" cy="250.3" r="5.0"/><circle cx="1630.1" cy="249.8" r="5.0"/><circle cx="1636.4" cy="249.4" r="5.0"/><circle cx="1576.8" cy="254.5" r="5.0"/><circle cx="1582.2" cy="252.4" r="5.0"/><circle cx="1585.2" cy="254.4" r="5.0"/><circle cx="1591.3" cy="253.1" r="5.0"/><circle cx="1597.4" cy="253.6" r="5.0"/><circle cx="1601.6" cy="252.6" r="5.0"/><circle cx="1606.2" cy="254.1" r="5.0"/><circle cx="1613.5" cy="252.3" r="5.0"/><circle cx="1616.9" cy="253.6" r="5.0"/><circle cx="1628.0" cy="252.9" r="5.0"/><circle cx="1632.2" cy="253.3" r="5.0"/><circle cx="1639.2" cy="252.6" r="5.0"/><circle cx="1643.7" cy="254.3" r="5.0"/><circle cx="1649.0" cy="253.1" r="5.0"/><circle cx="1582.9" cy="258.3" r="5.0"/><circle cx="1588.4" cy="257.3" r="5.0"/><circle cx="1593.7" cy="257.8" r="5.0"/><circle cx="1599.8" cy="257.8" r="5.0"/><circle cx="1605.6" cy="257.1" r="5.0"/><circle cx="1610.8" cy="257.9" r="5.0"/><circle cx="1630.7" cy="258.6" r="5.0"/><circle cx="1637.0" cy="258.6" r="5.0"/><circle cx="1642.2" cy="257.6" r="5.0"/><circle cx="1645.7" cy="259.0" r="5.0"/><circle cx="1591.6" cy="263.2" r="5.0"/><circle cx="1597.6" cy="262.4" r="5.0"/><circle cx="1601.3" cy="261.3" r="5.0"/><circle cx="1616.8" cy="263.5" r="5.0"/><circle cx="1628.9" cy="261.9" r="5.0"/><circle cx="1632.5" cy="263.5" r="5.0"/><circle cx="1637.7" cy="262.8" r="5.0"/><circle cx="1644.8" cy="262.4" r="5.0"/><circle cx="1648.6" cy="263.7" r="5.0"/><circle cx="1593.7" cy="267.5" r="5.0"/><circle cx="1600.5" cy="266.9" r="5.0"/><circle cx="1616.1" cy="267.8" r="5.0"/><circle cx="1621.4" cy="266.4" r="5.0"/><circle cx="1625.9" cy="266.3" r="5.0"/><circle cx="1629.6" cy="266.6" r="5.0"/><circle cx="1637.0" cy="266.5" r="5.0"/><circle cx="1640.5" cy="268.1" r="5.0"/><circle cx="1647.5" cy="267.7" r="5.0"/><circle cx="1651.0" cy="267.9" r="5.0"/><circle cx="1606.7" cy="271.3" r="5.0"/><circle cx="1612.2" cy="272.6" r="5.0"/><circle cx="1618.6" cy="271.0" r="5.0"/><circle cx="1622.7" cy="270.8" r="5.0"/><circle cx="1629.2" cy="270.6" r="5.0"/><circle cx="1633.2" cy="270.3" r="5.0"/><circle cx="1660.2" cy="279.8" r="5.0"/><circle cx="1660.8" cy="283.9" r="5.0"/><circle cx="1667.3" cy="284.3" r="5.0"/><circle cx="1279.5" cy="52.8" r="5.0"/><circle cx="1298.6" cy="67.1" r="5.0"/><circle cx="1329.3" cy="68.1" r="5.0"/><circle cx="1329.3" cy="74.0" r="5.0"/><circle cx="1322.0" cy="75.6" r="5.0"/><circle cx="1320.2" cy="80.1" r="5.0"/><circle cx="1320.4" cy="97.9" r="5.0"/><circle cx="1336.8" cy="86.3" r="5.0"/><circle cx="1344.8" cy="82.4" r="5.0"/><circle cx="1354.4" cy="86.3" r="5.0"/><circle cx="1341.4" cy="93.8" r="5.0"/><circle cx="1349.4" cy="93.8" r="5.0"/><circle cx="1356.2" cy="93.8" r="5.0"/><circle cx="1342.1" cy="102.9" r="5.0"/><circle cx="1351.6" cy="101.8" r="5.0"/><circle cx="1358.5" cy="106.3" r="5.0"/><circle cx="1366.4" cy="98.3" r="5.0"/><circle cx="1373.3" cy="97.7" r="5.0"/><circle cx="1384.6" cy="97.7" r="5.0"/><circle cx="1360.7" cy="114.3" r="5.0"/><circle cx="1367.1" cy="122.9" r="5.0"/><circle cx="1380.1" cy="123.4" r="5.0"/><circle cx="1374.4" cy="110.9" r="5.0"/><circle cx="1388.1" cy="130.2" r="5.0"/><circle cx="1394.9" cy="106.3" r="5.0"/><circle cx="1403.5" cy="105.2" r="5.0"/><circle cx="1399.4" cy="138.2" r="5.0"/><circle cx="1401.7" cy="145.0" r="5.0"/><circle cx="1410.8" cy="115.4" r="5.0"/><circle cx="1422.9" cy="116.6" r="5.0"/><circle cx="1431.3" cy="125.7" r="5.0"/><circle cx="1448.4" cy="127.9" r="5.0"/><circle cx="1456.4" cy="135.9" r="5.0"/><circle cx="1465.5" cy="141.6" r="5.0"/><circle cx="1472.3" cy="146.8" r="5.0"/><circle cx="1480.3" cy="132.5" r="5.0"/><circle cx="1407.3" cy="113.4" r="5.0"/><circle cx="1423.3" cy="116.4" r="5.0"/><circle cx="1447.2" cy="128.2" r="5.0"/><circle cx="1458.6" cy="138.5" r="5.0"/><circle cx="1471.1" cy="147.6" r="5.0"/><circle cx="1479.7" cy="132.8" r="5.0"/><circle cx="1489.3" cy="155.5" r="5.0"/><circle cx="1501.8" cy="159.0" r="5.0"/><circle cx="1513.2" cy="161.9" r="5.0"/><circle cx="1520.0" cy="171.5" r="5.0"/><circle cx="1532.6" cy="179.4" r="5.0"/><circle cx="1548.5" cy="184.0" r="5.0"/><circle cx="1553.0" cy="195.4" r="5.0"/><circle cx="1566.2" cy="195.8" r="5.0"/><circle cx="1576.9" cy="197.7" r="5.0"/><circle cx="1582.6" cy="199.9" r="5.0"/><circle cx="1592.9" cy="212.5" r="5.0"/><circle cx="1599.7" cy="217.0" r="5.0"/><circle cx="1384.6" cy="129.4" r="5.0"/><circle cx="1400.5" cy="141.9" r="5.0"/><circle cx="1406.2" cy="151.0" r="5.0"/><circle cx="1423.3" cy="159.0" r="5.0"/><circle cx="1435.8" cy="166.9" r="5.0"/><circle cx="1438.1" cy="176.0" r="5.0"/><circle cx="1454.0" cy="178.3" r="5.0"/><circle cx="1466.5" cy="184.0" r="5.0"/><circle cx="1476.8" cy="195.4" r="5.0"/><circle cx="1480.2" cy="202.2" r="5.0"/><circle cx="1495.0" cy="207.9" r="5.0"/><circle cx="1498.4" cy="211.3" r="5.0"/><circle cx="1506.4" cy="217.0" r="5.0"/><circle cx="1531.9" cy="183.4" r="5.0"/><circle cx="1549.0" cy="184.6" r="5.0"/><circle cx="1553.5" cy="195.9" r="5.0"/><circle cx="1566.5" cy="195.5" r="5.0"/><circle cx="1580.8" cy="199.4" r="5.0"/><circle cx="1577.4" cy="209.6" r="5.0"/><circle cx="1592.2" cy="213.0" r="5.0"/><circle cx="1600.2" cy="217.6" r="5.0"/><circle cx="1611.6" cy="223.3" r="5.0"/><circle cx="1613.8" cy="233.5" r="5.0"/><circle cx="1624.1" cy="238.1" r="5.0"/><circle cx="1632.1" cy="235.8" r="5.0"/><circle cx="1640.0" cy="246.0" r="5.0"/><circle cx="1652.6" cy="251.3" r="5.0"/><circle cx="1658.2" cy="261.3" r="5.0"/><circle cx="1657.1" cy="273.4" r="5.0"/><circle cx="1674.2" cy="271.5" r="5.0"/><circle cx="1692.4" cy="271.5" r="5.0"/><circle cx="1666.2" cy="277.9" r="5.0"/><circle cx="1673.0" cy="284.7" r="5.0"/><circle cx="1699.9" cy="288.2" r="5.0"/><circle cx="1505.7" cy="218.7" r="5.0"/><circle cx="1513.7" cy="216.4" r="5.0"/><circle cx="1525.0" cy="229.0" r="5.0"/><circle cx="1537.6" cy="241.5" r="5.0"/><circle cx="1549.0" cy="243.8" r="5.0"/><circle cx="1568.3" cy="254.0" r="5.0"/><circle cx="1576.3" cy="268.8" r="5.0"/><circle cx="1586.5" cy="266.1" r="5.0"/><circle cx="1599.0" cy="272.2" r="5.0"/><circle cx="1603.6" cy="283.6" r="5.0"/><circle cx="1616.1" cy="279.0" r="5.0"/><circle cx="1626.4" cy="287.0" r="5.0"/><circle cx="1634.3" cy="285.9" r="5.0"/><circle cx="1566.8" cy="254.6" r="5.0"/><circle cx="1576.4" cy="268.7" r="5.0"/><circle cx="1586.2" cy="265.9" r="5.0"/><circle cx="1597.6" cy="272.8" r="5.0"/><circle cx="1604.0" cy="283.5" r="5.0"/><circle cx="1611.3" cy="270.5" r="5.0"/><circle cx="1614.7" cy="279.6" r="5.0"/><circle cx="1624.9" cy="285.8" r="5.0"/><circle cx="1634.0" cy="285.8" r="5.0"/><circle cx="1640.9" cy="294.9" r="5.0"/><circle cx="1637.4" cy="305.4" r="5.0"/><circle cx="1628.3" cy="275.1" r="5.0"/><circle cx="1637.4" cy="272.8" r="5.0"/><circle cx="1646.6" cy="269.4" r="5.0"/><circle cx="1652.3" cy="252.3" r="5.0"/><circle cx="1658.4" cy="260.9" r="5.0"/><circle cx="1655.7" cy="272.8" r="5.0"/><circle cx="1664.8" cy="277.3" r="5.0"/><circle cx="1674.4" cy="271.6" r="5.0"/><circle cx="1692.1" cy="271.6" r="5.0"/><circle cx="1655.7" cy="287.6" r="5.0"/><circle cx="1664.8" cy="284.2" r="5.0"/><circle cx="1672.8" cy="285.3" r="5.0"/><circle cx="1669.3" cy="291.0" r="5.0"/><circle cx="1659.1" cy="297.8" r="5.0"/><circle cx="1665.9" cy="294.4" r="5.0"/><circle cx="1665.5" cy="305.1" r="5.0"/><circle cx="1662.5" cy="316.1" r="5.0"/><circle cx="1678.5" cy="299.0" r="5.0"/><circle cx="1687.6" cy="297.8" r="5.0"/><circle cx="1699.0" cy="288.7" r="5.0"/><circle cx="1708.1" cy="292.1" r="5.0"/><circle cx="1701.7" cy="295.6" r="5.0"/><circle cx="1699.4" cy="312.0" r="5.0"/><circle cx="1716.7" cy="311.0" r="5.0"/><circle cx="1724.0" cy="318.3" r="5.0"/><circle cx="1688.7" cy="325.9" r="5.0"/><circle cx="1712.2" cy="336.1" r="5.0"/><circle cx="1712.2" cy="342.3" r="5.0"/></g>
<rect class="fr" x="1256.3" y="38.0" width="489.8" height="318.5"/>
<line class="tick" x1="1307.2" x2="1307.2" y1="356.5" y2="361.9"/><text class="t" font-size="14.59" text-anchor="middle" letter-spacing="-0.85" transform="translate(1306.30,379.01) scale(1,1.09)">100</text>
<line class="tick" x1="1374.7" x2="1374.7" y1="356.5" y2="361.9"/><text class="t" font-size="14.59" text-anchor="middle" letter-spacing="-0.85" transform="translate(1373.80,379.01) scale(1,1.09)">200</text>
<line class="tick" x1="1442.2" x2="1442.2" y1="356.5" y2="361.9"/><text class="t" font-size="14.59" text-anchor="middle" letter-spacing="-0.85" transform="translate(1441.30,379.01) scale(1,1.09)">300</text>
<line class="tick" x1="1509.7" x2="1509.7" y1="356.5" y2="361.9"/><text class="t" font-size="14.59" text-anchor="middle" letter-spacing="-0.85" transform="translate(1508.80,379.01) scale(1,1.09)">400</text>
<line class="tick" x1="1577.2" x2="1577.2" y1="356.5" y2="361.9"/><text class="t" font-size="14.59" text-anchor="middle" letter-spacing="-0.85" transform="translate(1576.30,379.01) scale(1,1.09)">500</text>
<line class="tick" x1="1644.7" x2="1644.7" y1="356.5" y2="361.9"/><text class="t" font-size="14.59" text-anchor="middle" letter-spacing="-0.85" transform="translate(1643.80,379.01) scale(1,1.09)">600</text>
<line class="tick" x1="1712.2" x2="1712.2" y1="356.5" y2="361.9"/><text class="t" font-size="14.59" text-anchor="middle" letter-spacing="-0.85" transform="translate(1711.30,379.01) scale(1,1.09)">700</text>
<line class="tick" x1="1251.9" x2="1256.3" y1="76.0" y2="76.0"/><text class="t" font-size="14.59" text-anchor="end" letter-spacing="-0.85" transform="translate(1244.71,82.57) scale(1,1.09)">2300</text>
<line class="tick" x1="1251.9" x2="1256.3" y1="138.2" y2="138.2"/><text class="t" font-size="14.59" text-anchor="end" letter-spacing="-0.85" transform="translate(1244.71,144.77) scale(1,1.09)">2200</text>
<line class="tick" x1="1251.9" x2="1256.3" y1="200.4" y2="200.4"/><text class="t" font-size="14.59" text-anchor="end" letter-spacing="-0.85" transform="translate(1244.71,206.97) scale(1,1.09)">2100</text>
<line class="tick" x1="1251.9" x2="1256.3" y1="262.6" y2="262.6"/><text class="t" font-size="14.59" text-anchor="end" letter-spacing="-0.85" transform="translate(1244.71,269.17) scale(1,1.09)">2000</text>
<line class="tick" x1="1251.9" x2="1256.3" y1="324.8" y2="324.8"/><text class="t" font-size="14.59" text-anchor="end" letter-spacing="-0.85" transform="translate(1244.71,331.37) scale(1,1.09)">1900</text>
<text class="t" font-size="17.53" text-anchor="middle" transform="translate(1501.00,29.60) scale(1,1.09)">correlation = -0.969 , 19.2% regularity</text>
<text class="t" font-size="14.59" text-anchor="middle" transform="translate(1501.50,399.80) scale(1,1.09)">log(size of ideal)</text>
<text class="t" font-size="14.88" text-anchor="middle" transform="translate(1199.00,199.55) rotate(-90)">log(#solutions)</text>
<text class="cap" text-anchor="middle" font-size="51.5" letter-spacing="-1.2" x="1500.6" y="468.55">(c)</text>
</g>
</svg>
</body></html>
